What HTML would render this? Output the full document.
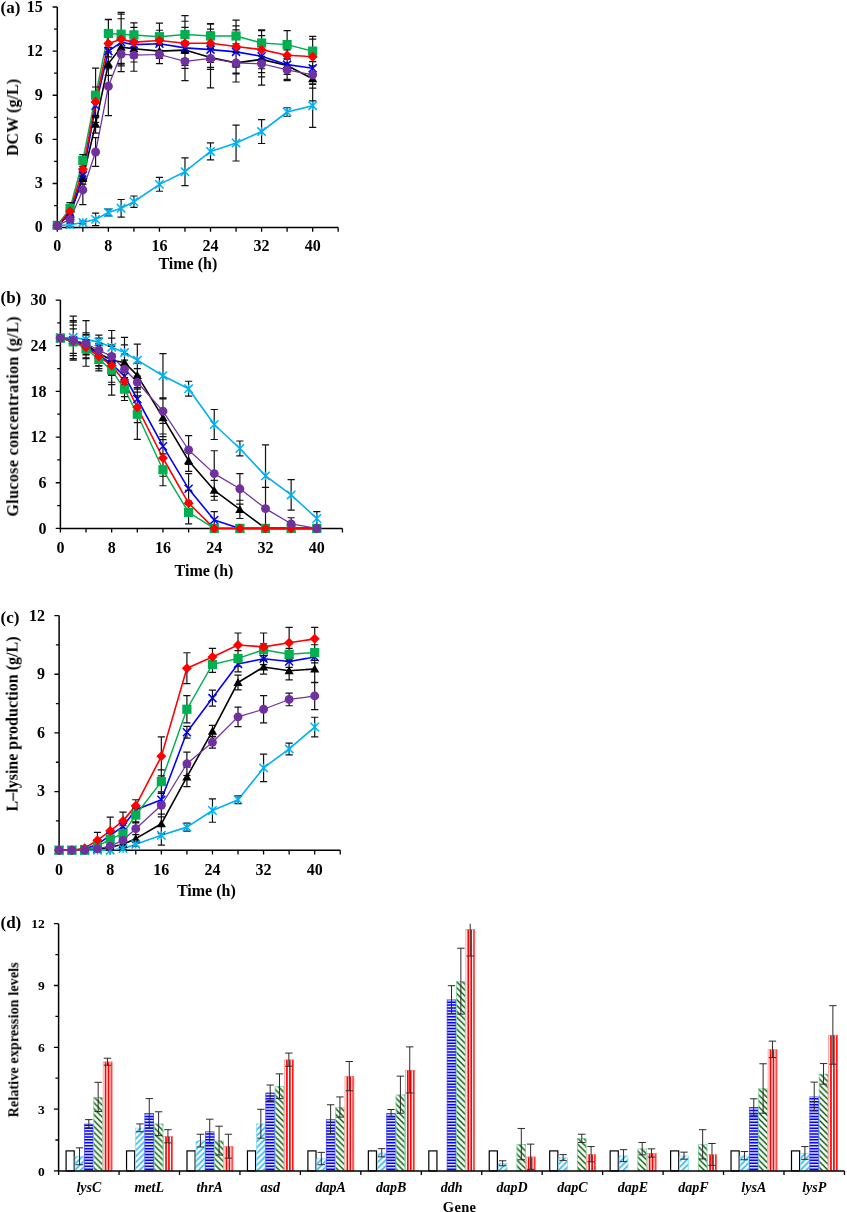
<!DOCTYPE html>
<html><head><meta charset="utf-8"><title>Figure</title><style>html,body{margin:0;padding:0;background:#fff;width:847px;height:1212px;overflow:hidden;}svg{display:block;} text{will-change:transform;}</style></head><body>
<svg width="847" height="1212" viewBox="0 0 847 1212">
<rect width="847" height="1212" fill="#fff"/>
<path d="M57.3,6.99V227.6H338.2" stroke="#000" stroke-width="1.5" fill="none"/>
<path d="M52.6,227.6H57.3M54.1,205.54H57.3M52.6,183.48H57.3M54.1,161.42H57.3M52.6,139.36H57.3M54.1,117.3H57.3M52.6,95.24H57.3M54.1,73.18H57.3M52.6,51.12H57.3M54.1,29.06H57.3M52.6,6.99H57.3M57.3,227.6V231.8M82.84,227.6V231.8M108.37,227.6V231.8M133.91,227.6V231.8M159.44,227.6V231.8M184.98,227.6V231.8M210.52,227.6V231.8M236.05,227.6V231.8M261.59,227.6V231.8M287.12,227.6V231.8M312.66,227.6V231.8M338.2,227.6V231.8" stroke="#000" stroke-width="1.3" fill="none"/>
<text x="42.8" y="232.2" text-anchor="end" font-family="Liberation Serif" font-weight="bold" font-size="16">0</text>
<text x="42.8" y="188.08" text-anchor="end" font-family="Liberation Serif" font-weight="bold" font-size="16">3</text>
<text x="42.8" y="143.96" text-anchor="end" font-family="Liberation Serif" font-weight="bold" font-size="16">6</text>
<text x="42.8" y="99.84" text-anchor="end" font-family="Liberation Serif" font-weight="bold" font-size="16">9</text>
<text x="42.8" y="55.72" text-anchor="end" font-family="Liberation Serif" font-weight="bold" font-size="16">12</text>
<text x="42.8" y="11.59" text-anchor="end" font-family="Liberation Serif" font-weight="bold" font-size="16">15</text>
<text x="57.3" y="251.3" text-anchor="middle" font-family="Liberation Serif" font-weight="bold" font-size="16">0</text>
<text x="108.37" y="251.3" text-anchor="middle" font-family="Liberation Serif" font-weight="bold" font-size="16">8</text>
<text x="159.44" y="251.3" text-anchor="middle" font-family="Liberation Serif" font-weight="bold" font-size="16">16</text>
<text x="210.52" y="251.3" text-anchor="middle" font-family="Liberation Serif" font-weight="bold" font-size="16">24</text>
<text x="261.59" y="251.3" text-anchor="middle" font-family="Liberation Serif" font-weight="bold" font-size="16">32</text>
<text x="312.66" y="251.3" text-anchor="middle" font-family="Liberation Serif" font-weight="bold" font-size="16">40</text>
<text x="187.8" y="269.2" text-anchor="middle" font-family="Liberation Serif" font-weight="bold" font-size="16">Time (h)</text>
<text transform="translate(18,117.5) rotate(-90)" text-anchor="middle" font-family="Liberation Serif" font-weight="bold" font-size="16" textLength="77" lengthAdjust="spacing">DCW (g/L)</text>
<text x="0.5" y="12.6" font-family="Liberation Serif" font-weight="bold" font-size="17">(a)</text>
<g>
<polyline points="57.3,225.39 70.07,214.36 82.84,178.18 95.6,124.21 108.37,63.62 121.14,47.15 133.91,48.76 159.44,51.12 184.98,50.09 210.52,57.59 236.05,62.88 261.59,59.35 287.12,65.53 312.66,78.77" stroke="#000000" stroke-width="1.6" fill="none" stroke-linejoin="round"/>
<polyline points="57.3,225.54 70.07,224.81 82.84,222.45 95.6,219.36 108.37,212.45 121.14,208.33 133.91,201.72 159.44,184.36 184.98,171.71 210.52,151.42 236.05,143.03 261.59,131.56 287.12,112 312.66,105.68" stroke="#00B0F0" stroke-width="1.6" fill="none" stroke-linejoin="round"/>
<polyline points="57.3,225.39 70.07,212.89 82.84,175.54 95.6,105.83 108.37,51.12 121.14,42.29 133.91,44.64 159.44,43.76 184.98,47.88 210.52,49.65 236.05,51.85 261.59,56.26 287.12,64.65 312.66,68.18" stroke="#0000FF" stroke-width="1.6" fill="none" stroke-linejoin="round"/>
<polyline points="57.3,225.39 70.07,208.48 82.84,160.54 95.6,95.24 108.37,33.47 121.14,34.2 133.91,34.94 159.44,36.7 184.98,34.5 210.52,35.97 236.05,35.97 261.59,43.03 287.12,44.64 312.66,51.12" stroke="#00B050" stroke-width="1.45" fill="none" stroke-linejoin="round"/>
<polyline points="57.3,225.39 70.07,211.28 82.84,169.36 95.6,101.71 108.37,43.47 121.14,39.2 133.91,42.14 159.44,40.53 184.98,43.32 210.52,43.32 236.05,46.56 261.59,49.65 287.12,55.23 312.66,56.7" stroke="#FF0000" stroke-width="1.6" fill="none" stroke-linejoin="round"/>
<polyline points="57.3,225.54 70.07,219.36 82.84,189.95 95.6,152.01 108.37,86.27 121.14,54.06 133.91,55.09 159.44,54.5 184.98,61.41 210.52,58.47 236.05,62.88 261.59,63.76 287.12,69.94 312.66,74.79" stroke="#7030A0" stroke-width="1.25" fill="none" stroke-linejoin="round"/>
<path d="M57.3,224.66V226.13M53.7,224.66H60.9M53.7,226.13H60.9M70.07,209.95V218.78M66.47,209.95H73.67M66.47,218.78H73.67M82.84,172.3V184.07M79.24,172.3H86.44M79.24,184.07H86.44M95.6,115.39V133.03M92,115.39H99.2M92,133.03H99.2M108.37,51.85V75.38M104.77,51.85H111.97M104.77,75.38H111.97M121.14,30.97V63.32M117.54,30.97H124.74M117.54,63.32H124.74M133.91,35.53V62M130.31,35.53H137.51M130.31,62H137.51M159.44,43.76V58.47M155.84,43.76H163.04M155.84,58.47H163.04M184.98,41.26V58.91M181.38,41.26H188.58M181.38,58.91H188.58M210.52,45.82V69.35M206.92,45.82H214.12M206.92,69.35H214.12M236.05,52.59V73.18M232.45,52.59H239.65M232.45,73.18H239.65M261.59,46.12V72.59M257.99,46.12H265.19M257.99,72.59H265.19M287.12,56.7V74.35M283.52,56.7H290.72M283.52,74.35H290.72M312.66,56.7V100.83M309.06,56.7H316.26M309.06,100.83H316.26M57.3,224.81V226.28M53.7,224.81H60.9M53.7,226.28H60.9M70.07,223.33V226.28M66.47,223.33H73.67M66.47,226.28H73.67M82.84,220.98V223.92M79.24,220.98H86.44M79.24,223.92H86.44M95.6,213.04V225.69M92,213.04H99.2M92,225.69H99.2M108.37,209.07V215.83M104.77,209.07H111.97M104.77,215.83H111.97M121.14,199.51V217.16M117.54,199.51H124.74M117.54,217.16H124.74M133.91,195.98V207.45M130.31,195.98H137.51M130.31,207.45H137.51M159.44,177.45V191.27M155.84,177.45H163.04M155.84,191.27H163.04M184.98,157.89V185.54M181.38,157.89H188.58M181.38,185.54H188.58M210.52,142.89V159.95M206.92,142.89H214.12M206.92,159.95H214.12M236.05,125.09V160.98M232.45,125.09H239.65M232.45,160.98H239.65M261.59,119.65V143.48M257.99,119.65H265.19M257.99,143.48H265.19M287.12,107.74V116.27M283.52,107.74H290.72M283.52,116.27H290.72M312.66,83.91V127.45M309.06,83.91H316.26M309.06,127.45H316.26M57.3,224.66V226.13M53.7,224.66H60.9M53.7,226.13H60.9M70.07,208.48V217.31M66.47,208.48H73.67M66.47,217.31H73.67M82.84,169.65V181.42M79.24,169.65H86.44M79.24,181.42H86.44M95.6,94.06V117.59M92,94.06H99.2M92,117.59H99.2M108.37,33.47V68.76M104.77,33.47H111.97M104.77,68.76H111.97M121.14,18.76V65.82M117.54,18.76H124.74M117.54,65.82H124.74M133.91,31.41V57.88M130.31,31.41H137.51M130.31,57.88H137.51M159.44,34.94V52.59M155.84,34.94H163.04M155.84,52.59H163.04M184.98,27.29V68.47M181.38,27.29H188.58M181.38,68.47H188.58M210.52,32V67.29M206.92,32H214.12M206.92,67.29H214.12M236.05,29.79V73.91M232.45,29.79H239.65M232.45,73.91H239.65M261.59,35.67V76.85M257.99,35.67H265.19M257.99,76.85H265.19M287.12,49.94V79.35M283.52,49.94H290.72M283.52,79.35H290.72M312.66,52V84.35M309.06,52H316.26M309.06,84.35H316.26M57.3,224.66V226.13M53.7,224.66H60.9M53.7,226.13H60.9M70.07,202.6V214.36M66.47,202.6H73.67M66.47,214.36H73.67M82.84,154.65V166.42M79.24,154.65H86.44M79.24,166.42H86.44M95.6,68.03V122.44M92,68.03H99.2M92,122.44H99.2M108.37,19.35V47.59M104.77,19.35H111.97M104.77,47.59H111.97M121.14,12.44V55.97M117.54,12.44H124.74M117.54,55.97H124.74M133.91,22.88V47M130.31,22.88H137.51M130.31,47H137.51M159.44,23.17V50.23M155.84,23.17H163.04M155.84,50.23H163.04M184.98,15.53V53.47M181.38,15.53H188.58M181.38,53.47H188.58M210.52,23.61V48.32M206.92,23.61H214.12M206.92,48.32H214.12M236.05,20.08V51.85M232.45,20.08H239.65M232.45,51.85H239.65M261.59,29.79V56.26M257.99,29.79H265.19M257.99,56.26H265.19M287.12,30.67V58.62M283.52,30.67H290.72M283.52,58.62H290.72M312.66,36.41V65.82M309.06,36.41H316.26M309.06,65.82H316.26M57.3,224.66V226.13M53.7,224.66H60.9M53.7,226.13H60.9M70.07,206.86V215.69M66.47,206.86H73.67M66.47,215.69H73.67M82.84,162.01V176.71M79.24,162.01H86.44M79.24,176.71H86.44M95.6,87V116.42M92,87H99.2M92,116.42H99.2M108.37,19.64V67.29M104.77,19.64H111.97M104.77,67.29H111.97M121.14,14.2V64.21M117.54,14.2H124.74M117.54,64.21H124.74M133.91,27.44V56.85M130.31,27.44H137.51M130.31,56.85H137.51M159.44,30.23V50.82M155.84,30.23H163.04M155.84,50.82H163.04M184.98,21.26V65.38M181.38,21.26H188.58M181.38,65.38H188.58M210.52,24.2V62.44M206.92,24.2H214.12M206.92,62.44H214.12M236.05,25.97V67.15M232.45,25.97H239.65M232.45,67.15H239.65M261.59,30.53V68.76M257.99,30.53H265.19M257.99,68.76H265.19M287.12,40.53V69.94M283.52,40.53H290.72M283.52,69.94H290.72M312.66,39.06V74.35M309.06,39.06H316.26M309.06,74.35H316.26M57.3,224.81V226.28M53.7,224.81H60.9M53.7,226.28H60.9M70.07,216.42V222.31M66.47,216.42H73.67M66.47,222.31H73.67M82.84,175.24V204.66M79.24,175.24H86.44M79.24,204.66H86.44M95.6,137.59V166.42M92,137.59H99.2M92,166.42H99.2M108.37,56.85V115.68M104.77,56.85H111.97M104.77,115.68H111.97M121.14,36.41V71.71M117.54,36.41H124.74M117.54,71.71H124.74M133.91,38.91V71.26M130.31,38.91H137.51M130.31,71.26H137.51M159.44,45.38V63.62M155.84,45.38H163.04M155.84,63.62H163.04M184.98,42.29V80.53M181.38,42.29H188.58M181.38,80.53H188.58M210.52,29.06V87.88M206.92,29.06H214.12M206.92,87.88H214.12M236.05,43.76V82M232.45,43.76H239.65M232.45,82H239.65M261.59,42.44V85.09M257.99,42.44H265.19M257.99,85.09H265.19M287.12,59.2V80.68M283.52,59.2H290.72M283.52,80.68H290.72M312.66,61.56V88.03M309.06,61.56H316.26M309.06,88.03H316.26" stroke="#111" stroke-width="1.2" fill="none"/>
<polygon points="57.3,220.99 61.9,228.91 52.7,228.91" fill="#000000"/>
<polygon points="70.07,209.96 74.67,217.88 65.47,217.88" fill="#000000"/>
<polygon points="82.84,173.78 87.44,181.7 78.24,181.7" fill="#000000"/>
<polygon points="95.6,119.81 100.2,127.73 91,127.73" fill="#000000"/>
<polygon points="108.37,59.22 112.97,67.14 103.77,67.14" fill="#000000"/>
<polygon points="121.14,42.75 125.74,50.67 116.54,50.67" fill="#000000"/>
<polygon points="133.91,44.36 138.51,52.28 129.31,52.28" fill="#000000"/>
<polygon points="159.44,46.72 164.04,54.64 154.84,54.64" fill="#000000"/>
<polygon points="184.98,45.69 189.58,53.61 180.38,53.61" fill="#000000"/>
<polygon points="210.52,53.19 215.12,61.11 205.92,61.11" fill="#000000"/>
<polygon points="236.05,58.48 240.65,66.4 231.45,66.4" fill="#000000"/>
<polygon points="261.59,54.95 266.19,62.87 256.99,62.87" fill="#000000"/>
<polygon points="287.12,61.13 291.72,69.05 282.52,69.05" fill="#000000"/>
<polygon points="312.66,74.37 317.26,82.29 308.06,82.29" fill="#000000"/>
<path d="M53.1,221.34L61.5,229.74M53.1,229.74L61.5,221.34M57.3,221.34L57.3,229.74" stroke="#00B0F0" stroke-width="1.5" fill="none"/>
<path d="M65.87,220.61L74.27,229.01M65.87,229.01L74.27,220.61M70.07,220.61L70.07,229.01" stroke="#00B0F0" stroke-width="1.5" fill="none"/>
<path d="M78.64,218.25L87.04,226.65M78.64,226.65L87.04,218.25M82.84,218.25L82.84,226.65" stroke="#00B0F0" stroke-width="1.5" fill="none"/>
<path d="M91.4,215.16L99.8,223.56M91.4,223.56L99.8,215.16M95.6,215.16L95.6,223.56" stroke="#00B0F0" stroke-width="1.5" fill="none"/>
<path d="M104.17,208.25L112.57,216.65M104.17,216.65L112.57,208.25M108.37,208.25L108.37,216.65" stroke="#00B0F0" stroke-width="1.5" fill="none"/>
<path d="M116.94,204.13L125.34,212.53M116.94,212.53L125.34,204.13M121.14,204.13L121.14,212.53" stroke="#00B0F0" stroke-width="1.5" fill="none"/>
<path d="M129.71,197.52L138.11,205.92M129.71,205.92L138.11,197.52M133.91,197.52L133.91,205.92" stroke="#00B0F0" stroke-width="1.5" fill="none"/>
<path d="M155.24,180.16L163.64,188.56M155.24,188.56L163.64,180.16M159.44,180.16L159.44,188.56" stroke="#00B0F0" stroke-width="1.5" fill="none"/>
<path d="M180.78,167.51L189.18,175.91M180.78,175.91L189.18,167.51M184.98,167.51L184.98,175.91" stroke="#00B0F0" stroke-width="1.5" fill="none"/>
<path d="M206.32,147.22L214.72,155.62M206.32,155.62L214.72,147.22M210.52,147.22L210.52,155.62" stroke="#00B0F0" stroke-width="1.5" fill="none"/>
<path d="M231.85,138.83L240.25,147.23M231.85,147.23L240.25,138.83M236.05,138.83L236.05,147.23" stroke="#00B0F0" stroke-width="1.5" fill="none"/>
<path d="M257.39,127.36L265.79,135.76M257.39,135.76L265.79,127.36M261.59,127.36L261.59,135.76" stroke="#00B0F0" stroke-width="1.5" fill="none"/>
<path d="M282.92,107.8L291.32,116.2M282.92,116.2L291.32,107.8M287.12,107.8L287.12,116.2" stroke="#00B0F0" stroke-width="1.5" fill="none"/>
<path d="M308.46,101.48L316.86,109.88M308.46,109.88L316.86,101.48M312.66,101.48L312.66,109.88" stroke="#00B0F0" stroke-width="1.5" fill="none"/>
<path d="M53.3,221.39L61.3,229.39M53.3,229.39L61.3,221.39" stroke="#0000FF" stroke-width="1.5" fill="none"/>
<path d="M66.07,208.89L74.07,216.89M66.07,216.89L74.07,208.89" stroke="#0000FF" stroke-width="1.5" fill="none"/>
<path d="M78.84,171.54L86.84,179.54M78.84,179.54L86.84,171.54" stroke="#0000FF" stroke-width="1.5" fill="none"/>
<path d="M91.6,101.83L99.6,109.83M91.6,109.83L99.6,101.83" stroke="#0000FF" stroke-width="1.5" fill="none"/>
<path d="M104.37,47.12L112.37,55.12M104.37,55.12L112.37,47.12" stroke="#0000FF" stroke-width="1.5" fill="none"/>
<path d="M117.14,38.29L125.14,46.29M117.14,46.29L125.14,38.29" stroke="#0000FF" stroke-width="1.5" fill="none"/>
<path d="M129.91,40.64L137.91,48.64M129.91,48.64L137.91,40.64" stroke="#0000FF" stroke-width="1.5" fill="none"/>
<path d="M155.44,39.76L163.44,47.76M155.44,47.76L163.44,39.76" stroke="#0000FF" stroke-width="1.5" fill="none"/>
<path d="M180.98,43.88L188.98,51.88M180.98,51.88L188.98,43.88" stroke="#0000FF" stroke-width="1.5" fill="none"/>
<path d="M206.52,45.65L214.52,53.65M206.52,53.65L214.52,45.65" stroke="#0000FF" stroke-width="1.5" fill="none"/>
<path d="M232.05,47.85L240.05,55.85M232.05,55.85L240.05,47.85" stroke="#0000FF" stroke-width="1.5" fill="none"/>
<path d="M257.59,52.26L265.59,60.26M257.59,60.26L265.59,52.26" stroke="#0000FF" stroke-width="1.5" fill="none"/>
<path d="M283.12,60.65L291.12,68.65M283.12,68.65L291.12,60.65" stroke="#0000FF" stroke-width="1.5" fill="none"/>
<path d="M308.66,64.18L316.66,72.18M308.66,72.18L316.66,64.18" stroke="#0000FF" stroke-width="1.5" fill="none"/>
<rect x="52.7" y="220.79" width="9.2" height="9.2" fill="#00B050"/>
<rect x="65.47" y="203.88" width="9.2" height="9.2" fill="#00B050"/>
<rect x="78.24" y="155.94" width="9.2" height="9.2" fill="#00B050"/>
<rect x="91" y="90.64" width="9.2" height="9.2" fill="#00B050"/>
<rect x="103.77" y="28.87" width="9.2" height="9.2" fill="#00B050"/>
<rect x="116.54" y="29.6" width="9.2" height="9.2" fill="#00B050"/>
<rect x="129.31" y="30.34" width="9.2" height="9.2" fill="#00B050"/>
<rect x="154.84" y="32.1" width="9.2" height="9.2" fill="#00B050"/>
<rect x="180.38" y="29.9" width="9.2" height="9.2" fill="#00B050"/>
<rect x="205.92" y="31.37" width="9.2" height="9.2" fill="#00B050"/>
<rect x="231.45" y="31.37" width="9.2" height="9.2" fill="#00B050"/>
<rect x="256.99" y="38.43" width="9.2" height="9.2" fill="#00B050"/>
<rect x="282.52" y="40.04" width="9.2" height="9.2" fill="#00B050"/>
<rect x="308.06" y="46.52" width="9.2" height="9.2" fill="#00B050"/>
<polygon points="57.3,220.39 62.3,225.39 57.3,230.39 52.3,225.39" fill="#FF0000"/>
<polygon points="70.07,206.28 75.07,211.28 70.07,216.28 65.07,211.28" fill="#FF0000"/>
<polygon points="82.84,164.36 87.84,169.36 82.84,174.36 77.84,169.36" fill="#FF0000"/>
<polygon points="95.6,96.71 100.6,101.71 95.6,106.71 90.6,101.71" fill="#FF0000"/>
<polygon points="108.37,38.47 113.37,43.47 108.37,48.47 103.37,43.47" fill="#FF0000"/>
<polygon points="121.14,34.2 126.14,39.2 121.14,44.2 116.14,39.2" fill="#FF0000"/>
<polygon points="133.91,37.14 138.91,42.14 133.91,47.14 128.91,42.14" fill="#FF0000"/>
<polygon points="159.44,35.53 164.44,40.53 159.44,45.53 154.44,40.53" fill="#FF0000"/>
<polygon points="184.98,38.32 189.98,43.32 184.98,48.32 179.98,43.32" fill="#FF0000"/>
<polygon points="210.52,38.32 215.52,43.32 210.52,48.32 205.52,43.32" fill="#FF0000"/>
<polygon points="236.05,41.56 241.05,46.56 236.05,51.56 231.05,46.56" fill="#FF0000"/>
<polygon points="261.59,44.65 266.59,49.65 261.59,54.65 256.59,49.65" fill="#FF0000"/>
<polygon points="287.12,50.23 292.12,55.23 287.12,60.23 282.12,55.23" fill="#FF0000"/>
<polygon points="312.66,51.7 317.66,56.7 312.66,61.7 307.66,56.7" fill="#FF0000"/>
<circle cx="57.3" cy="225.54" r="4.45" fill="#7030A0"/>
<circle cx="70.07" cy="219.36" r="4.45" fill="#7030A0"/>
<circle cx="82.84" cy="189.95" r="4.45" fill="#7030A0"/>
<circle cx="95.6" cy="152.01" r="4.45" fill="#7030A0"/>
<circle cx="108.37" cy="86.27" r="4.45" fill="#7030A0"/>
<circle cx="121.14" cy="54.06" r="4.45" fill="#7030A0"/>
<circle cx="133.91" cy="55.09" r="4.45" fill="#7030A0"/>
<circle cx="159.44" cy="54.5" r="4.45" fill="#7030A0"/>
<circle cx="184.98" cy="61.41" r="4.45" fill="#7030A0"/>
<circle cx="210.52" cy="58.47" r="4.45" fill="#7030A0"/>
<circle cx="236.05" cy="62.88" r="4.45" fill="#7030A0"/>
<circle cx="261.59" cy="63.76" r="4.45" fill="#7030A0"/>
<circle cx="287.12" cy="69.94" r="4.45" fill="#7030A0"/>
<circle cx="312.66" cy="74.79" r="4.45" fill="#7030A0"/>
</g>
<path d="M60.4,300.04V528.4H342.44" stroke="#000" stroke-width="1.5" fill="none"/>
<path d="M55.7,528.4H60.4M57.2,505.56H60.4M55.7,482.73H60.4M57.2,459.89H60.4M55.7,437.06H60.4M57.2,414.22H60.4M55.7,391.38H60.4M57.2,368.55H60.4M55.7,345.71H60.4M57.2,322.88H60.4M55.7,300.04H60.4M60.4,528.4V532.6M86.04,528.4V532.6M111.68,528.4V532.6M137.32,528.4V532.6M162.96,528.4V532.6M188.6,528.4V532.6M214.24,528.4V532.6M239.88,528.4V532.6M265.52,528.4V532.6M291.16,528.4V532.6M316.8,528.4V532.6M342.44,528.4V532.6" stroke="#000" stroke-width="1.3" fill="none"/>
<text x="46.6" y="533.7" text-anchor="end" font-family="Liberation Serif" font-weight="bold" font-size="16">0</text>
<text x="46.6" y="488.03" text-anchor="end" font-family="Liberation Serif" font-weight="bold" font-size="16">6</text>
<text x="46.6" y="442.36" text-anchor="end" font-family="Liberation Serif" font-weight="bold" font-size="16">12</text>
<text x="46.6" y="396.68" text-anchor="end" font-family="Liberation Serif" font-weight="bold" font-size="16">18</text>
<text x="46.6" y="351.01" text-anchor="end" font-family="Liberation Serif" font-weight="bold" font-size="16">24</text>
<text x="46.6" y="305.34" text-anchor="end" font-family="Liberation Serif" font-weight="bold" font-size="16">30</text>
<text x="60.4" y="553.3" text-anchor="middle" font-family="Liberation Serif" font-weight="bold" font-size="16">0</text>
<text x="111.68" y="553.3" text-anchor="middle" font-family="Liberation Serif" font-weight="bold" font-size="16">8</text>
<text x="162.96" y="553.3" text-anchor="middle" font-family="Liberation Serif" font-weight="bold" font-size="16">16</text>
<text x="214.24" y="553.3" text-anchor="middle" font-family="Liberation Serif" font-weight="bold" font-size="16">24</text>
<text x="265.52" y="553.3" text-anchor="middle" font-family="Liberation Serif" font-weight="bold" font-size="16">32</text>
<text x="316.8" y="553.3" text-anchor="middle" font-family="Liberation Serif" font-weight="bold" font-size="16">40</text>
<text x="204" y="576" text-anchor="middle" font-family="Liberation Serif" font-weight="bold" font-size="16">Time (h)</text>
<text transform="translate(18.2,416.6) rotate(-90)" text-anchor="middle" font-family="Liberation Serif" font-weight="bold" font-size="16" textLength="200" lengthAdjust="spacing">Glucose concentration (g/L)</text>
<text x="0.5" y="303" font-family="Liberation Serif" font-weight="bold" font-size="17">(b)</text>
<g>
<polyline points="60.4,338.1 73.22,340.38 86.04,344.19 98.86,353.32 111.68,360.17 124.5,362.46 137.32,375.4 162.96,417.65 188.6,460.65 214.24,490.34 239.88,509.37 265.52,528.4 291.16,528.4 316.8,528.4" stroke="#000000" stroke-width="1.6" fill="none" stroke-linejoin="round"/>
<polyline points="60.4,338.1 73.22,337.34 86.04,339.62 98.86,341.91 111.68,347.23 124.5,352.56 137.32,360.17 162.96,375.78 188.6,388.72 214.24,424.5 239.88,448.47 265.52,475.88 291.16,494.91 316.8,518.5" stroke="#00B0F0" stroke-width="1.6" fill="none" stroke-linejoin="round"/>
<polyline points="60.4,338.1 73.22,340.38 86.04,345.71 98.86,354.85 111.68,363.98 124.5,376.16 137.32,399 162.96,446.19 188.6,488.82 214.24,520.03 239.88,528.4 265.52,528.4 291.16,528.4 316.8,528.4" stroke="#0000FF" stroke-width="1.6" fill="none" stroke-linejoin="round"/>
<polyline points="60.4,338.1 73.22,341.91 86.04,348.76 98.86,359.41 111.68,370.07 124.5,389.1 137.32,414.22 162.96,469.79 188.6,512.41 214.24,528.4 239.88,528.4 265.52,528.4 291.16,528.4 316.8,528.4" stroke="#00B050" stroke-width="1.45" fill="none" stroke-linejoin="round"/>
<polyline points="60.4,338.1 73.22,341.14 86.04,347.23 98.86,356.37 111.68,365.5 124.5,381.49 137.32,407.37 162.96,457.99 188.6,503.28 214.24,528.4 239.88,528.4 265.52,528.4 291.16,528.4 316.8,528.4" stroke="#FF0000" stroke-width="1.6" fill="none" stroke-linejoin="round"/>
<polyline points="60.4,338.1 73.22,340.38 86.04,343.43 98.86,350.28 111.68,356.37 124.5,369.31 137.32,382.25 162.96,411.18 188.6,450 214.24,473.59 239.88,488.82 265.52,508.61 291.16,523.83 316.8,528.4" stroke="#7030A0" stroke-width="1.25" fill="none" stroke-linejoin="round"/>
<path d="M60.4,335.82V340.38M56.8,335.82H64M56.8,340.38H64M73.22,322.11V358.65M69.62,322.11H76.82M69.62,358.65H76.82M86.04,334.29V354.09M82.44,334.29H89.64M82.44,354.09H89.64M98.86,343.43V363.22M95.26,343.43H102.46M95.26,363.22H102.46M111.68,344.95V375.4M108.08,344.95H115.28M108.08,375.4H115.28M124.5,337.34V387.58M120.9,337.34H128.1M120.9,387.58H128.1M137.32,363.22V387.58M133.72,363.22H140.92M133.72,387.58H140.92M162.96,398.62V436.68M159.36,398.62H166.56M159.36,436.68H166.56M188.6,450V471.31M185,450H192.2M185,471.31H192.2M214.24,480.44V500.24M210.64,480.44H217.84M210.64,500.24H217.84M239.88,500.24V518.5M236.28,500.24H243.48M236.28,518.5H243.48M60.4,335.82V340.38M56.8,335.82H64M56.8,340.38H64M73.22,316.03V358.65M69.62,316.03H76.82M69.62,358.65H76.82M86.04,335.06V344.19M82.44,335.06H89.64M82.44,344.19H89.64M98.86,338.1V345.71M95.26,338.1H102.46M95.26,345.71H102.46M111.68,338.1V356.37M108.08,338.1H115.28M108.08,356.37H115.28M124.5,344.95V360.17M120.9,344.95H128.1M120.9,360.17H128.1M137.32,344.19V376.16M133.72,344.19H140.92M133.72,376.16H140.92M162.96,353.7V397.85M159.36,353.7H166.56M159.36,397.85H166.56M188.6,381.26V396.18M185,381.26H192.2M185,396.18H192.2M214.24,409.5V439.49M210.64,409.5H217.84M210.64,439.49H217.84M239.88,441.01V455.93M236.28,441.01H243.48M236.28,455.93H243.48M265.52,444.97V506.78M261.92,444.97H269.12M261.92,506.78H269.12M291.16,479.68V510.13M287.56,479.68H294.76M287.56,510.13H294.76M316.8,511.65V525.36M313.2,511.65H320.4M313.2,525.36H320.4M60.4,335.82V340.38M56.8,335.82H64M56.8,340.38H64M73.22,325.16V355.61M69.62,325.16H76.82M69.62,355.61H76.82M86.04,332.77V358.65M82.44,332.77H89.64M82.44,358.65H89.64M98.86,343.43V366.26M95.26,343.43H102.46M95.26,366.26H102.46M111.68,354.09V373.88M108.08,354.09H115.28M108.08,373.88H115.28M124.5,367.03V385.29M120.9,367.03H128.1M120.9,385.29H128.1M137.32,387.58V410.41M133.72,387.58H140.92M133.72,410.41H140.92M162.96,434.01V458.37M159.36,434.01H166.56M159.36,458.37H166.56M188.6,473.59V504.04M185,473.59H192.2M185,504.04H192.2M214.24,511.65V528.4M210.64,511.65H217.84M210.64,528.4H217.84M60.4,335.82V340.38M56.8,335.82H64M56.8,340.38H64M86.04,339.62V357.89M82.44,339.62H89.64M82.44,357.89H89.64M98.86,348V370.83M95.26,348H102.46M95.26,370.83H102.46M111.68,344.95V395.19M108.08,344.95H115.28M108.08,395.19H115.28M124.5,377.68V400.52M120.9,377.68H128.1M120.9,400.52H128.1M137.32,389.1V439.34M133.72,389.1H140.92M133.72,439.34H140.92M162.96,453.8V485.77M159.36,453.8H166.56M159.36,485.77H166.56M188.6,501V523.83M185,501H192.2M185,523.83H192.2M60.4,335.82V340.38M56.8,335.82H64M56.8,340.38H64M73.22,328.97V353.32M69.62,328.97H76.82M69.62,353.32H76.82M86.04,339.62V354.85M82.44,339.62H89.64M82.44,354.85H89.64M98.86,344.19V368.55M95.26,344.19H102.46M95.26,368.55H102.46M111.68,346.47V384.53M108.08,346.47H115.28M108.08,384.53H115.28M124.5,366.26V396.71M120.9,366.26H128.1M120.9,396.71H128.1M137.32,392.15V422.59M133.72,392.15H140.92M133.72,422.59H140.92M162.96,439.72V476.26M159.36,439.72H166.56M159.36,476.26H166.56M188.6,490.34V516.22M185,490.34H192.2M185,516.22H192.2M60.4,335.82V340.38M56.8,335.82H64M56.8,340.38H64M73.22,320.59V360.17M69.62,320.59H76.82M69.62,360.17H76.82M86.04,320.59V366.26M82.44,320.59H89.64M82.44,366.26H89.64M98.86,335.06V365.5M95.26,335.06H102.46M95.26,365.5H102.46M111.68,330.49V382.25M108.08,330.49H115.28M108.08,382.25H115.28M124.5,354.09V384.53M120.9,354.09H128.1M120.9,384.53H128.1M137.32,368.55V395.95M133.72,368.55H140.92M133.72,395.95H140.92M162.96,399V423.35M159.36,399H166.56M159.36,423.35H166.56M188.6,435.53V464.46M185,435.53H192.2M185,464.46H192.2M214.24,450.76V496.43M210.64,450.76H217.84M210.64,496.43H217.84M239.88,473.59V504.04M236.28,473.59H243.48M236.28,504.04H243.48M265.52,487.3V528.4M261.92,487.3H269.12M291.16,517.74V528.4M287.56,517.74H294.76M316.8,526.12V528.4M313.2,526.12H320.4" stroke="#111" stroke-width="1.2" fill="none"/>
<polygon points="60.4,333.7 65,341.62 55.8,341.62" fill="#000000"/>
<polygon points="73.22,335.98 77.82,343.9 68.62,343.9" fill="#000000"/>
<polygon points="86.04,339.79 90.64,347.71 81.44,347.71" fill="#000000"/>
<polygon points="98.86,348.92 103.46,356.84 94.26,356.84" fill="#000000"/>
<polygon points="111.68,355.77 116.28,363.69 107.08,363.69" fill="#000000"/>
<polygon points="124.5,358.06 129.1,365.98 119.9,365.98" fill="#000000"/>
<polygon points="137.32,371 141.92,378.92 132.72,378.92" fill="#000000"/>
<polygon points="162.96,413.25 167.56,421.17 158.36,421.17" fill="#000000"/>
<polygon points="188.6,456.25 193.2,464.17 184,464.17" fill="#000000"/>
<polygon points="214.24,485.94 218.84,493.86 209.64,493.86" fill="#000000"/>
<polygon points="239.88,504.97 244.48,512.89 235.28,512.89" fill="#000000"/>
<polygon points="265.52,524 270.12,531.92 260.92,531.92" fill="#000000"/>
<polygon points="291.16,524 295.76,531.92 286.56,531.92" fill="#000000"/>
<polygon points="316.8,524 321.4,531.92 312.2,531.92" fill="#000000"/>
<path d="M56.2,333.9L64.6,342.3M56.2,342.3L64.6,333.9M60.4,333.9L60.4,342.3" stroke="#00B0F0" stroke-width="1.5" fill="none"/>
<path d="M69.02,333.14L77.42,341.54M69.02,341.54L77.42,333.14M73.22,333.14L73.22,341.54" stroke="#00B0F0" stroke-width="1.5" fill="none"/>
<path d="M81.84,335.42L90.24,343.82M81.84,343.82L90.24,335.42M86.04,335.42L86.04,343.82" stroke="#00B0F0" stroke-width="1.5" fill="none"/>
<path d="M94.66,337.71L103.06,346.11M94.66,346.11L103.06,337.71M98.86,337.71L98.86,346.11" stroke="#00B0F0" stroke-width="1.5" fill="none"/>
<path d="M107.48,343.03L115.88,351.43M107.48,351.43L115.88,343.03M111.68,343.03L111.68,351.43" stroke="#00B0F0" stroke-width="1.5" fill="none"/>
<path d="M120.3,348.36L128.7,356.76M120.3,356.76L128.7,348.36M124.5,348.36L124.5,356.76" stroke="#00B0F0" stroke-width="1.5" fill="none"/>
<path d="M133.12,355.97L141.52,364.37M133.12,364.37L141.52,355.97M137.32,355.97L137.32,364.37" stroke="#00B0F0" stroke-width="1.5" fill="none"/>
<path d="M158.76,371.58L167.16,379.98M158.76,379.98L167.16,371.58M162.96,371.58L162.96,379.98" stroke="#00B0F0" stroke-width="1.5" fill="none"/>
<path d="M184.4,384.52L192.8,392.92M184.4,392.92L192.8,384.52M188.6,384.52L188.6,392.92" stroke="#00B0F0" stroke-width="1.5" fill="none"/>
<path d="M210.04,420.3L218.44,428.7M210.04,428.7L218.44,420.3M214.24,420.3L214.24,428.7" stroke="#00B0F0" stroke-width="1.5" fill="none"/>
<path d="M235.68,444.27L244.08,452.67M235.68,452.67L244.08,444.27M239.88,444.27L239.88,452.67" stroke="#00B0F0" stroke-width="1.5" fill="none"/>
<path d="M261.32,471.68L269.72,480.08M261.32,480.08L269.72,471.68M265.52,471.68L265.52,480.08" stroke="#00B0F0" stroke-width="1.5" fill="none"/>
<path d="M286.96,490.71L295.36,499.11M286.96,499.11L295.36,490.71M291.16,490.71L291.16,499.11" stroke="#00B0F0" stroke-width="1.5" fill="none"/>
<path d="M312.6,514.3L321,522.7M312.6,522.7L321,514.3M316.8,514.3L316.8,522.7" stroke="#00B0F0" stroke-width="1.5" fill="none"/>
<path d="M56.4,334.1L64.4,342.1M56.4,342.1L64.4,334.1" stroke="#0000FF" stroke-width="1.5" fill="none"/>
<path d="M69.22,336.38L77.22,344.38M69.22,344.38L77.22,336.38" stroke="#0000FF" stroke-width="1.5" fill="none"/>
<path d="M82.04,341.71L90.04,349.71M82.04,349.71L90.04,341.71" stroke="#0000FF" stroke-width="1.5" fill="none"/>
<path d="M94.86,350.85L102.86,358.85M94.86,358.85L102.86,350.85" stroke="#0000FF" stroke-width="1.5" fill="none"/>
<path d="M107.68,359.98L115.68,367.98M107.68,367.98L115.68,359.98" stroke="#0000FF" stroke-width="1.5" fill="none"/>
<path d="M120.5,372.16L128.5,380.16M120.5,380.16L128.5,372.16" stroke="#0000FF" stroke-width="1.5" fill="none"/>
<path d="M133.32,395L141.32,403M133.32,403L141.32,395" stroke="#0000FF" stroke-width="1.5" fill="none"/>
<path d="M158.96,442.19L166.96,450.19M158.96,450.19L166.96,442.19" stroke="#0000FF" stroke-width="1.5" fill="none"/>
<path d="M184.6,484.82L192.6,492.82M184.6,492.82L192.6,484.82" stroke="#0000FF" stroke-width="1.5" fill="none"/>
<path d="M210.24,516.03L218.24,524.03M210.24,524.03L218.24,516.03" stroke="#0000FF" stroke-width="1.5" fill="none"/>
<path d="M235.88,524.4L243.88,532.4M235.88,532.4L243.88,524.4" stroke="#0000FF" stroke-width="1.5" fill="none"/>
<path d="M261.52,524.4L269.52,532.4M261.52,532.4L269.52,524.4" stroke="#0000FF" stroke-width="1.5" fill="none"/>
<path d="M287.16,524.4L295.16,532.4M287.16,532.4L295.16,524.4" stroke="#0000FF" stroke-width="1.5" fill="none"/>
<path d="M312.8,524.4L320.8,532.4M312.8,532.4L320.8,524.4" stroke="#0000FF" stroke-width="1.5" fill="none"/>
<rect x="55.8" y="333.5" width="9.2" height="9.2" fill="#00B050"/>
<rect x="68.62" y="337.31" width="9.2" height="9.2" fill="#00B050"/>
<rect x="81.44" y="344.16" width="9.2" height="9.2" fill="#00B050"/>
<rect x="94.26" y="354.81" width="9.2" height="9.2" fill="#00B050"/>
<rect x="107.08" y="365.47" width="9.2" height="9.2" fill="#00B050"/>
<rect x="119.9" y="384.5" width="9.2" height="9.2" fill="#00B050"/>
<rect x="132.72" y="409.62" width="9.2" height="9.2" fill="#00B050"/>
<rect x="158.36" y="465.19" width="9.2" height="9.2" fill="#00B050"/>
<rect x="184" y="507.81" width="9.2" height="9.2" fill="#00B050"/>
<rect x="209.64" y="523.8" width="9.2" height="9.2" fill="#00B050"/>
<rect x="235.28" y="523.8" width="9.2" height="9.2" fill="#00B050"/>
<rect x="260.92" y="523.8" width="9.2" height="9.2" fill="#00B050"/>
<rect x="286.56" y="523.8" width="9.2" height="9.2" fill="#00B050"/>
<rect x="312.2" y="523.8" width="9.2" height="9.2" fill="#00B050"/>
<polygon points="60.4,333.1 65.4,338.1 60.4,343.1 55.4,338.1" fill="#FF0000"/>
<polygon points="73.22,336.14 78.22,341.14 73.22,346.14 68.22,341.14" fill="#FF0000"/>
<polygon points="86.04,342.23 91.04,347.23 86.04,352.23 81.04,347.23" fill="#FF0000"/>
<polygon points="98.86,351.37 103.86,356.37 98.86,361.37 93.86,356.37" fill="#FF0000"/>
<polygon points="111.68,360.5 116.68,365.5 111.68,370.5 106.68,365.5" fill="#FF0000"/>
<polygon points="124.5,376.49 129.5,381.49 124.5,386.49 119.5,381.49" fill="#FF0000"/>
<polygon points="137.32,402.37 142.32,407.37 137.32,412.37 132.32,407.37" fill="#FF0000"/>
<polygon points="162.96,452.99 167.96,457.99 162.96,462.99 157.96,457.99" fill="#FF0000"/>
<polygon points="188.6,498.28 193.6,503.28 188.6,508.28 183.6,503.28" fill="#FF0000"/>
<polygon points="214.24,523.4 219.24,528.4 214.24,533.4 209.24,528.4" fill="#FF0000"/>
<polygon points="239.88,523.4 244.88,528.4 239.88,533.4 234.88,528.4" fill="#FF0000"/>
<polygon points="265.52,523.4 270.52,528.4 265.52,533.4 260.52,528.4" fill="#FF0000"/>
<polygon points="291.16,523.4 296.16,528.4 291.16,533.4 286.16,528.4" fill="#FF0000"/>
<polygon points="316.8,523.4 321.8,528.4 316.8,533.4 311.8,528.4" fill="#FF0000"/>
<circle cx="60.4" cy="338.1" r="4.45" fill="#7030A0"/>
<circle cx="73.22" cy="340.38" r="4.45" fill="#7030A0"/>
<circle cx="86.04" cy="343.43" r="4.45" fill="#7030A0"/>
<circle cx="98.86" cy="350.28" r="4.45" fill="#7030A0"/>
<circle cx="111.68" cy="356.37" r="4.45" fill="#7030A0"/>
<circle cx="124.5" cy="369.31" r="4.45" fill="#7030A0"/>
<circle cx="137.32" cy="382.25" r="4.45" fill="#7030A0"/>
<circle cx="162.96" cy="411.18" r="4.45" fill="#7030A0"/>
<circle cx="188.6" cy="450" r="4.45" fill="#7030A0"/>
<circle cx="214.24" cy="473.59" r="4.45" fill="#7030A0"/>
<circle cx="239.88" cy="488.82" r="4.45" fill="#7030A0"/>
<circle cx="265.52" cy="508.61" r="4.45" fill="#7030A0"/>
<circle cx="291.16" cy="523.83" r="4.45" fill="#7030A0"/>
<circle cx="316.8" cy="528.4" r="4.45" fill="#7030A0"/>
</g>
<path d="M59.1,615.6V850.2H340.26" stroke="#000" stroke-width="1.5" fill="none"/>
<path d="M54.4,850.2H59.1M55.9,820.88H59.1M54.4,791.55H59.1M55.9,762.23H59.1M54.4,732.9H59.1M55.9,703.58H59.1M54.4,674.25H59.1M55.9,644.93H59.1M54.4,615.6H59.1M59.1,850.2V854.4M84.66,850.2V854.4M110.22,850.2V854.4M135.78,850.2V854.4M161.34,850.2V854.4M186.9,850.2V854.4M212.46,850.2V854.4M238.02,850.2V854.4M263.58,850.2V854.4M289.14,850.2V854.4M314.7,850.2V854.4M340.26,850.2V854.4" stroke="#000" stroke-width="1.3" fill="none"/>
<text x="44.9" y="855.1" text-anchor="end" font-family="Liberation Serif" font-weight="bold" font-size="16">0</text>
<text x="44.9" y="796.45" text-anchor="end" font-family="Liberation Serif" font-weight="bold" font-size="16">3</text>
<text x="44.9" y="737.8" text-anchor="end" font-family="Liberation Serif" font-weight="bold" font-size="16">6</text>
<text x="44.9" y="679.15" text-anchor="end" font-family="Liberation Serif" font-weight="bold" font-size="16">9</text>
<text x="44.9" y="620.5" text-anchor="end" font-family="Liberation Serif" font-weight="bold" font-size="16">12</text>
<text x="59.1" y="874.5" text-anchor="middle" font-family="Liberation Serif" font-weight="bold" font-size="16">0</text>
<text x="110.22" y="874.5" text-anchor="middle" font-family="Liberation Serif" font-weight="bold" font-size="16">8</text>
<text x="161.34" y="874.5" text-anchor="middle" font-family="Liberation Serif" font-weight="bold" font-size="16">16</text>
<text x="212.46" y="874.5" text-anchor="middle" font-family="Liberation Serif" font-weight="bold" font-size="16">24</text>
<text x="263.58" y="874.5" text-anchor="middle" font-family="Liberation Serif" font-weight="bold" font-size="16">32</text>
<text x="314.7" y="874.5" text-anchor="middle" font-family="Liberation Serif" font-weight="bold" font-size="16">40</text>
<text x="206.3" y="896" text-anchor="middle" font-family="Liberation Serif" font-weight="bold" font-size="16">Time (h)</text>
<text transform="translate(17.6,724) rotate(-90)" text-anchor="middle" font-family="Liberation Serif" font-weight="bold" font-size="16" textLength="175" lengthAdjust="spacing">L&#8211;lysine production (g/L)</text>
<text x="0.5" y="623" font-family="Liberation Serif" font-weight="bold" font-size="17">(c)</text>
<g>
<polyline points="59.1,850.2 71.88,850.2 84.66,850.2 97.44,849.22 110.22,847.27 123,844.34 135.78,838.67 161.34,823.81 186.9,776.89 212.46,731.14 238.02,682.46 263.58,667.02 289.14,670.73 314.7,668.97" stroke="#000000" stroke-width="1.6" fill="none" stroke-linejoin="round"/>
<polyline points="59.1,850.2 71.88,850.2 84.66,850.2 97.44,850.2 110.22,850.2 123,848.64 135.78,844.34 161.34,835.34 186.9,827.13 212.46,810.51 238.02,799.76 263.58,767.89 289.14,748.93 314.7,727.04" stroke="#00B0F0" stroke-width="1.6" fill="none" stroke-linejoin="round"/>
<polyline points="59.1,850.2 71.88,850.2 84.66,849.22 97.44,844.34 110.22,835.34 123,826.35 135.78,809.73 161.34,799.76 186.9,732.31 212.46,698.1 238.02,664.08 263.58,658.81 289.14,661.54 314.7,657.05" stroke="#0000FF" stroke-width="1.6" fill="none" stroke-linejoin="round"/>
<polyline points="59.1,850.2 71.88,850.2 84.66,850.2 97.44,846.29 110.22,839.06 123,833.58 135.78,815.01 161.34,781.58 186.9,709.24 212.46,664.48 238.02,658.41 263.58,649.81 289.14,654.31 314.7,652.55" stroke="#00B050" stroke-width="1.45" fill="none" stroke-linejoin="round"/>
<polyline points="59.1,850.2 71.88,850.2 84.66,848.25 97.44,840.23 110.22,830.85 123,820.88 135.78,805.63 161.34,756.36 186.9,668.19 212.46,657.05 238.02,644.93 263.58,646.88 289.14,642.77 314.7,638.86" stroke="#FF0000" stroke-width="1.6" fill="none" stroke-linejoin="round"/>
<polyline points="59.1,850.2 71.88,850.2 84.66,850.2 97.44,848.64 110.22,846.09 123,840.23 135.78,828.7 161.34,805.24 186.9,763.79 212.46,742.28 238.02,716.87 263.58,709.24 289.14,699.47 314.7,695.95" stroke="#7030A0" stroke-width="1.25" fill="none" stroke-linejoin="round"/>
<path d="M97.44,847.27V850.2M93.84,847.27H101.04M110.22,845.31V849.22M106.62,845.31H113.82M106.62,849.22H113.82M123,841.4V847.27M119.4,841.4H126.6M119.4,847.27H126.6M135.78,834.76V842.58M132.18,834.76H139.38M132.18,842.58H139.38M161.34,814.03V833.58M157.74,814.03H164.94M157.74,833.58H164.94M186.9,767.11V786.66M183.3,767.11H190.5M183.3,786.66H190.5M212.46,725.28V737.01M208.86,725.28H216.06M208.86,737.01H216.06M238.02,675.03V689.89M234.42,675.03H241.62M234.42,689.89H241.62M263.58,659.98V674.05M259.98,659.98H267.18M259.98,674.05H267.18M289.14,661.54V679.92M285.54,661.54H292.74M285.54,679.92H292.74M314.7,655.29V682.66M311.1,655.29H318.3M311.1,682.66H318.3M123,847.66V849.61M119.4,847.66H126.6M119.4,849.61H126.6M135.78,842.38V846.29M132.18,842.38H139.38M132.18,846.29H139.38M161.34,825.57V845.12M157.74,825.57H164.94M157.74,845.12H164.94M186.9,823.22V831.04M183.3,823.22H190.5M183.3,831.04H190.5M212.46,798.78V822.24M208.86,798.78H216.06M208.86,822.24H216.06M238.02,795.85V803.67M234.42,795.85H241.62M234.42,803.67H241.62M263.58,754.21V781.58M259.98,754.21H267.18M259.98,781.58H267.18M289.14,743.07V754.8M285.54,743.07H292.74M285.54,754.8H292.74M314.7,717.26V736.81M311.1,717.26H318.3M311.1,736.81H318.3M97.44,842.38V846.29M93.84,842.38H101.04M93.84,846.29H101.04M110.22,831.43V839.25M106.62,831.43H113.82M106.62,839.25H113.82M123,820.48V832.21M119.4,820.48H126.6M119.4,832.21H126.6M135.78,805.82V813.64M132.18,805.82H139.38M132.18,813.64H139.38M161.34,791.94V807.58M157.74,791.94H164.94M157.74,807.58H164.94M186.9,726.45V738.18M183.3,726.45H190.5M183.3,738.18H190.5M212.46,690.09V706.12M208.86,690.09H216.06M208.86,706.12H216.06M238.02,656.26V671.9M234.42,656.26H241.62M234.42,671.9H241.62M263.58,652.94V664.67M259.98,652.94H267.18M259.98,664.67H267.18M289.14,655.68V667.41M285.54,655.68H292.74M285.54,667.41H292.74M314.7,651.18V662.91M311.1,651.18H318.3M311.1,662.91H318.3M97.44,842.38V850.2M93.84,842.38H101.04M93.84,850.2H101.04M110.22,833.19V844.92M106.62,833.19H113.82M106.62,844.92H113.82M123,825.76V841.4M119.4,825.76H126.6M119.4,841.4H126.6M135.78,808.17V821.85M132.18,808.17H139.38M132.18,821.85H139.38M161.34,769.85V793.31M157.74,769.85H164.94M157.74,793.31H164.94M186.9,695.56V722.93M183.3,695.56H190.5M183.3,722.93H190.5M212.46,656.65V672.3M208.86,656.65H216.06M208.86,672.3H216.06M238.02,650.59V666.23M234.42,650.59H241.62M234.42,666.23H241.62M263.58,643.95V655.68M259.98,643.95H267.18M259.98,655.68H267.18M289.14,648.44V660.17M285.54,648.44H292.74M285.54,660.17H292.74M314.7,644.73V660.37M311.1,644.73H318.3M311.1,660.37H318.3M97.44,832.41V848.05M93.84,832.41H101.04M93.84,848.05H101.04M110.22,817.16V844.53M106.62,817.16H113.82M106.62,844.53H113.82M123,812.08V829.67M119.4,812.08H126.6M119.4,829.67H126.6M135.78,799.76V811.49M132.18,799.76H139.38M132.18,811.49H139.38M161.34,736.81V775.91M157.74,736.81H164.94M157.74,775.91H164.94M186.9,652.75V683.63M183.3,652.75H190.5M183.3,683.63H190.5M212.46,648.44V665.65M208.86,648.44H216.06M208.86,665.65H216.06M238.02,633V656.85M234.42,633H241.62M234.42,656.85H241.62M263.58,633V660.76M259.98,633H267.18M259.98,660.76H267.18M289.14,627.33V658.22M285.54,627.33H292.74M285.54,658.22H292.74M314.7,627.33V650.4M311.1,627.33H318.3M311.1,650.4H318.3M97.44,847.66V849.61M93.84,847.66H101.04M93.84,849.61H101.04M110.22,844.14V848.05M106.62,844.14H113.82M106.62,848.05H113.82M123,836.32V844.14M119.4,836.32H126.6M119.4,844.14H126.6M135.78,822.83V834.56M132.18,822.83H139.38M132.18,834.56H139.38M161.34,793.5V816.97M157.74,793.5H164.94M157.74,816.97H164.94M186.9,752.06V775.52M183.3,752.06H190.5M183.3,775.52H190.5M212.46,736.42V748.15M208.86,736.42H216.06M208.86,748.15H216.06M238.02,707.09V726.64M234.42,707.09H241.62M234.42,726.64H241.62M263.58,695.56V722.93M259.98,695.56H267.18M259.98,722.93H267.18M289.14,693.21V705.73M285.54,693.21H292.74M285.54,705.73H292.74M314.7,682.27V709.64M311.1,682.27H318.3M311.1,709.64H318.3" stroke="#111" stroke-width="1.2" fill="none"/>
<polygon points="59.1,845.8 63.7,853.72 54.5,853.72" fill="#000000"/>
<polygon points="71.88,845.8 76.48,853.72 67.28,853.72" fill="#000000"/>
<polygon points="84.66,845.8 89.26,853.72 80.06,853.72" fill="#000000"/>
<polygon points="97.44,844.82 102.04,852.74 92.84,852.74" fill="#000000"/>
<polygon points="110.22,842.87 114.82,850.79 105.62,850.79" fill="#000000"/>
<polygon points="123,839.94 127.6,847.86 118.4,847.86" fill="#000000"/>
<polygon points="135.78,834.27 140.38,842.19 131.18,842.19" fill="#000000"/>
<polygon points="161.34,819.41 165.94,827.33 156.74,827.33" fill="#000000"/>
<polygon points="186.9,772.49 191.5,780.41 182.3,780.41" fill="#000000"/>
<polygon points="212.46,726.74 217.06,734.66 207.86,734.66" fill="#000000"/>
<polygon points="238.02,678.06 242.62,685.98 233.42,685.98" fill="#000000"/>
<polygon points="263.58,662.62 268.18,670.54 258.98,670.54" fill="#000000"/>
<polygon points="289.14,666.33 293.74,674.25 284.54,674.25" fill="#000000"/>
<polygon points="314.7,664.57 319.3,672.49 310.1,672.49" fill="#000000"/>
<path d="M54.9,846L63.3,854.4M54.9,854.4L63.3,846M59.1,846L59.1,854.4" stroke="#00B0F0" stroke-width="1.5" fill="none"/>
<path d="M67.68,846L76.08,854.4M67.68,854.4L76.08,846M71.88,846L71.88,854.4" stroke="#00B0F0" stroke-width="1.5" fill="none"/>
<path d="M80.46,846L88.86,854.4M80.46,854.4L88.86,846M84.66,846L84.66,854.4" stroke="#00B0F0" stroke-width="1.5" fill="none"/>
<path d="M93.24,846L101.64,854.4M93.24,854.4L101.64,846M97.44,846L97.44,854.4" stroke="#00B0F0" stroke-width="1.5" fill="none"/>
<path d="M106.02,846L114.42,854.4M106.02,854.4L114.42,846M110.22,846L110.22,854.4" stroke="#00B0F0" stroke-width="1.5" fill="none"/>
<path d="M118.8,844.44L127.2,852.84M118.8,852.84L127.2,844.44M123,844.44L123,852.84" stroke="#00B0F0" stroke-width="1.5" fill="none"/>
<path d="M131.58,840.13L139.98,848.54M131.58,848.54L139.98,840.13M135.78,840.13L135.78,848.54" stroke="#00B0F0" stroke-width="1.5" fill="none"/>
<path d="M157.14,831.14L165.54,839.54M157.14,839.54L165.54,831.14M161.34,831.14L161.34,839.54" stroke="#00B0F0" stroke-width="1.5" fill="none"/>
<path d="M182.7,822.93L191.1,831.33M182.7,831.33L191.1,822.93M186.9,822.93L186.9,831.33" stroke="#00B0F0" stroke-width="1.5" fill="none"/>
<path d="M208.26,806.31L216.66,814.71M208.26,814.71L216.66,806.31M212.46,806.31L212.46,814.71" stroke="#00B0F0" stroke-width="1.5" fill="none"/>
<path d="M233.82,795.56L242.22,803.96M233.82,803.96L242.22,795.56M238.02,795.56L238.02,803.96" stroke="#00B0F0" stroke-width="1.5" fill="none"/>
<path d="M259.38,763.69L267.78,772.09M259.38,772.09L267.78,763.69M263.58,763.69L263.58,772.09" stroke="#00B0F0" stroke-width="1.5" fill="none"/>
<path d="M284.94,744.73L293.34,753.13M284.94,753.13L293.34,744.73M289.14,744.73L289.14,753.13" stroke="#00B0F0" stroke-width="1.5" fill="none"/>
<path d="M310.5,722.84L318.9,731.24M310.5,731.24L318.9,722.84M314.7,722.84L314.7,731.24" stroke="#00B0F0" stroke-width="1.5" fill="none"/>
<path d="M55.1,846.2L63.1,854.2M55.1,854.2L63.1,846.2" stroke="#0000FF" stroke-width="1.5" fill="none"/>
<path d="M67.88,846.2L75.88,854.2M67.88,854.2L75.88,846.2" stroke="#0000FF" stroke-width="1.5" fill="none"/>
<path d="M80.66,845.22L88.66,853.22M80.66,853.22L88.66,845.22" stroke="#0000FF" stroke-width="1.5" fill="none"/>
<path d="M93.44,840.34L101.44,848.34M93.44,848.34L101.44,840.34" stroke="#0000FF" stroke-width="1.5" fill="none"/>
<path d="M106.22,831.34L114.22,839.34M106.22,839.34L114.22,831.34" stroke="#0000FF" stroke-width="1.5" fill="none"/>
<path d="M119,822.35L127,830.35M119,830.35L127,822.35" stroke="#0000FF" stroke-width="1.5" fill="none"/>
<path d="M131.78,805.73L139.78,813.73M131.78,813.73L139.78,805.73" stroke="#0000FF" stroke-width="1.5" fill="none"/>
<path d="M157.34,795.76L165.34,803.76M157.34,803.76L165.34,795.76" stroke="#0000FF" stroke-width="1.5" fill="none"/>
<path d="M182.9,728.31L190.9,736.31M182.9,736.31L190.9,728.31" stroke="#0000FF" stroke-width="1.5" fill="none"/>
<path d="M208.46,694.1L216.46,702.1M208.46,702.1L216.46,694.1" stroke="#0000FF" stroke-width="1.5" fill="none"/>
<path d="M234.02,660.08L242.02,668.08M234.02,668.08L242.02,660.08" stroke="#0000FF" stroke-width="1.5" fill="none"/>
<path d="M259.58,654.81L267.58,662.81M259.58,662.81L267.58,654.81" stroke="#0000FF" stroke-width="1.5" fill="none"/>
<path d="M285.14,657.54L293.14,665.54M285.14,665.54L293.14,657.54" stroke="#0000FF" stroke-width="1.5" fill="none"/>
<path d="M310.7,653.05L318.7,661.05M310.7,661.05L318.7,653.05" stroke="#0000FF" stroke-width="1.5" fill="none"/>
<rect x="54.5" y="845.6" width="9.2" height="9.2" fill="#00B050"/>
<rect x="67.28" y="845.6" width="9.2" height="9.2" fill="#00B050"/>
<rect x="80.06" y="845.6" width="9.2" height="9.2" fill="#00B050"/>
<rect x="92.84" y="841.69" width="9.2" height="9.2" fill="#00B050"/>
<rect x="105.62" y="834.46" width="9.2" height="9.2" fill="#00B050"/>
<rect x="118.4" y="828.98" width="9.2" height="9.2" fill="#00B050"/>
<rect x="131.18" y="810.41" width="9.2" height="9.2" fill="#00B050"/>
<rect x="156.74" y="776.98" width="9.2" height="9.2" fill="#00B050"/>
<rect x="182.3" y="704.64" width="9.2" height="9.2" fill="#00B050"/>
<rect x="207.86" y="659.88" width="9.2" height="9.2" fill="#00B050"/>
<rect x="233.42" y="653.81" width="9.2" height="9.2" fill="#00B050"/>
<rect x="258.98" y="645.21" width="9.2" height="9.2" fill="#00B050"/>
<rect x="284.54" y="649.71" width="9.2" height="9.2" fill="#00B050"/>
<rect x="310.1" y="647.95" width="9.2" height="9.2" fill="#00B050"/>
<polygon points="59.1,845.2 64.1,850.2 59.1,855.2 54.1,850.2" fill="#FF0000"/>
<polygon points="71.88,845.2 76.88,850.2 71.88,855.2 66.88,850.2" fill="#FF0000"/>
<polygon points="84.66,843.25 89.66,848.25 84.66,853.25 79.66,848.25" fill="#FF0000"/>
<polygon points="97.44,835.23 102.44,840.23 97.44,845.23 92.44,840.23" fill="#FF0000"/>
<polygon points="110.22,825.85 115.22,830.85 110.22,835.85 105.22,830.85" fill="#FF0000"/>
<polygon points="123,815.88 128,820.88 123,825.88 118,820.88" fill="#FF0000"/>
<polygon points="135.78,800.63 140.78,805.63 135.78,810.63 130.78,805.63" fill="#FF0000"/>
<polygon points="161.34,751.36 166.34,756.36 161.34,761.36 156.34,756.36" fill="#FF0000"/>
<polygon points="186.9,663.19 191.9,668.19 186.9,673.19 181.9,668.19" fill="#FF0000"/>
<polygon points="212.46,652.05 217.46,657.05 212.46,662.05 207.46,657.05" fill="#FF0000"/>
<polygon points="238.02,639.93 243.02,644.93 238.02,649.93 233.02,644.93" fill="#FF0000"/>
<polygon points="263.58,641.88 268.58,646.88 263.58,651.88 258.58,646.88" fill="#FF0000"/>
<polygon points="289.14,637.77 294.14,642.77 289.14,647.77 284.14,642.77" fill="#FF0000"/>
<polygon points="314.7,633.86 319.7,638.86 314.7,643.86 309.7,638.86" fill="#FF0000"/>
<circle cx="59.1" cy="850.2" r="4.45" fill="#7030A0"/>
<circle cx="71.88" cy="850.2" r="4.45" fill="#7030A0"/>
<circle cx="84.66" cy="850.2" r="4.45" fill="#7030A0"/>
<circle cx="97.44" cy="848.64" r="4.45" fill="#7030A0"/>
<circle cx="110.22" cy="846.09" r="4.45" fill="#7030A0"/>
<circle cx="123" cy="840.23" r="4.45" fill="#7030A0"/>
<circle cx="135.78" cy="828.7" r="4.45" fill="#7030A0"/>
<circle cx="161.34" cy="805.24" r="4.45" fill="#7030A0"/>
<circle cx="186.9" cy="763.79" r="4.45" fill="#7030A0"/>
<circle cx="212.46" cy="742.28" r="4.45" fill="#7030A0"/>
<circle cx="238.02" cy="716.87" r="4.45" fill="#7030A0"/>
<circle cx="263.58" cy="709.24" r="4.45" fill="#7030A0"/>
<circle cx="289.14" cy="699.47" r="4.45" fill="#7030A0"/>
<circle cx="314.7" cy="695.95" r="4.45" fill="#7030A0"/>
</g>
<defs><pattern id="pc" patternUnits="userSpaceOnUse" width="5.9" height="5.9"><rect width="5.9" height="5.9" fill="#fff"/><path d="M-1,1 L1,-1 M0,5.9 L5.9,0 M4.9,6.9 L6.9,4.9" stroke="#00A8EC" stroke-width="1.35"/></pattern><pattern id="pg" patternUnits="userSpaceOnUse" width="5.9" height="5.9"><rect width="5.9" height="5.9" fill="#fff"/><path d="M-1,4.9 L1,6.9 M0,0 L5.9,5.9 M4.9,-1 L6.9,1" stroke="#005c00" stroke-width="1.45"/></pattern><pattern id="pb" patternUnits="userSpaceOnUse" width="10" height="2.93" y="0.3"><rect width="10" height="2.93" fill="#dcdcff"/><rect y="0" width="10" height="1.6" fill="#0000FF"/></pattern></defs>
<rect x="66.1" y="1150.9" width="8.13" height="20" fill="#fff" stroke="#000" stroke-width="1.2"/>
<rect x="74.83" y="1156.27" width="9.33" height="14.63" fill="url(#pc)"/>
<rect x="75.18" y="1156.62" width="8.63" height="14.28" fill="none" stroke="#8fdcf8" stroke-width="0.7"/>
<rect x="84.16" y="1123.73" width="9.33" height="47.17" fill="#e2e2ff"/>
<path d="M84.16,1168.4h9.33V1169.9h-9.33zM84.16,1165.47h9.33V1166.97h-9.33zM84.16,1162.54h9.33V1164.04h-9.33zM84.16,1159.61h9.33V1161.11h-9.33zM84.16,1156.68h9.33V1158.18h-9.33zM84.16,1153.75h9.33V1155.25h-9.33zM84.16,1150.82h9.33V1152.32h-9.33zM84.16,1147.89h9.33V1149.39h-9.33zM84.16,1144.96h9.33V1146.46h-9.33zM84.16,1142.03h9.33V1143.53h-9.33zM84.16,1139.1h9.33V1140.6h-9.33zM84.16,1136.17h9.33V1137.67h-9.33zM84.16,1133.24h9.33V1134.74h-9.33zM84.16,1130.31h9.33V1131.81h-9.33zM84.16,1127.38h9.33V1128.88h-9.33zM84.16,1124.45h9.33V1125.95h-9.33z" fill="#0000FF"/>
<rect x="84.51" y="1124.08" width="8.63" height="46.82" fill="none" stroke="#5050f0" stroke-width="0.7"/>
<rect x="93.49" y="1096.95" width="9.33" height="73.95" fill="url(#pg)"/>
<rect x="93.84" y="1097.3" width="8.63" height="73.6" fill="none" stroke="#7fd6a6" stroke-width="0.7"/>
<rect x="102.82" y="1061.72" width="9.33" height="109.18" fill="#fff"/>
<rect x="104.72" y="1061.72" width="1.7" height="109.18" fill="#FF0000"/>
<rect x="107.67" y="1061.72" width="1.7" height="109.18" fill="#FF0000"/>
<rect x="110.62" y="1061.72" width="1.7" height="109.18" fill="#FF0000"/>
<rect x="103.17" y="1062.07" width="8.63" height="108.83" fill="none" stroke="#ff8080" stroke-width="0.7"/>
<text x="88.83" y="1192.3" text-anchor="middle" font-family="Liberation Serif" font-weight="bold" font-style="italic" font-size="14">lysC</text>
<rect x="126.55" y="1150.9" width="8.13" height="20" fill="#fff" stroke="#000" stroke-width="1.2"/>
<rect x="135.28" y="1127.85" width="9.33" height="43.05" fill="url(#pc)"/>
<rect x="135.63" y="1128.2" width="8.63" height="42.7" fill="none" stroke="#8fdcf8" stroke-width="0.7"/>
<rect x="144.61" y="1113.22" width="9.33" height="57.68" fill="#e2e2ff"/>
<path d="M144.61,1168.4h9.33V1169.9h-9.33zM144.61,1165.47h9.33V1166.97h-9.33zM144.61,1162.54h9.33V1164.04h-9.33zM144.61,1159.61h9.33V1161.11h-9.33zM144.61,1156.68h9.33V1158.18h-9.33zM144.61,1153.75h9.33V1155.25h-9.33zM144.61,1150.82h9.33V1152.32h-9.33zM144.61,1147.89h9.33V1149.39h-9.33zM144.61,1144.96h9.33V1146.46h-9.33zM144.61,1142.03h9.33V1143.53h-9.33zM144.61,1139.1h9.33V1140.6h-9.33zM144.61,1136.17h9.33V1137.67h-9.33zM144.61,1133.24h9.33V1134.74h-9.33zM144.61,1130.31h9.33V1131.81h-9.33zM144.61,1127.38h9.33V1128.88h-9.33zM144.61,1124.45h9.33V1125.95h-9.33zM144.61,1121.52h9.33V1123.02h-9.33zM144.61,1118.59h9.33V1120.09h-9.33zM144.61,1115.66h9.33V1117.16h-9.33zM144.61,1113.22h9.33V1114.23h-9.33z" fill="#0000FF"/>
<rect x="144.96" y="1113.57" width="8.63" height="57.33" fill="none" stroke="#5050f0" stroke-width="0.7"/>
<rect x="153.94" y="1123.73" width="9.33" height="47.17" fill="url(#pg)"/>
<rect x="154.29" y="1124.08" width="8.63" height="46.82" fill="none" stroke="#7fd6a6" stroke-width="0.7"/>
<rect x="163.27" y="1136.29" width="9.33" height="34.61" fill="#fff"/>
<rect x="165.17" y="1136.29" width="1.7" height="34.61" fill="#FF0000"/>
<rect x="168.12" y="1136.29" width="1.7" height="34.61" fill="#FF0000"/>
<rect x="171.07" y="1136.29" width="1.7" height="34.61" fill="#FF0000"/>
<rect x="163.62" y="1136.64" width="8.63" height="34.26" fill="none" stroke="#ff8080" stroke-width="0.7"/>
<text x="149.28" y="1192.3" text-anchor="middle" font-family="Liberation Serif" font-weight="bold" font-style="italic" font-size="14">metL</text>
<rect x="187" y="1150.9" width="8.13" height="20" fill="#fff" stroke="#000" stroke-width="1.2"/>
<rect x="195.73" y="1140.62" width="9.33" height="30.28" fill="url(#pc)"/>
<rect x="196.08" y="1140.97" width="8.63" height="29.93" fill="none" stroke="#8fdcf8" stroke-width="0.7"/>
<rect x="205.06" y="1131.55" width="9.33" height="39.35" fill="#e2e2ff"/>
<path d="M205.06,1168.4h9.33V1169.9h-9.33zM205.06,1165.47h9.33V1166.97h-9.33zM205.06,1162.54h9.33V1164.04h-9.33zM205.06,1159.61h9.33V1161.11h-9.33zM205.06,1156.68h9.33V1158.18h-9.33zM205.06,1153.75h9.33V1155.25h-9.33zM205.06,1150.82h9.33V1152.32h-9.33zM205.06,1147.89h9.33V1149.39h-9.33zM205.06,1144.96h9.33V1146.46h-9.33zM205.06,1142.03h9.33V1143.53h-9.33zM205.06,1139.1h9.33V1140.6h-9.33zM205.06,1136.17h9.33V1137.67h-9.33zM205.06,1133.24h9.33V1134.74h-9.33zM205.06,1131.55h9.33V1131.81h-9.33z" fill="#0000FF"/>
<rect x="205.41" y="1131.9" width="8.63" height="39" fill="none" stroke="#5050f0" stroke-width="0.7"/>
<rect x="214.39" y="1140.62" width="9.33" height="30.28" fill="url(#pg)"/>
<rect x="214.74" y="1140.97" width="8.63" height="29.93" fill="none" stroke="#7fd6a6" stroke-width="0.7"/>
<rect x="223.72" y="1146.18" width="9.33" height="24.72" fill="#fff"/>
<rect x="225.62" y="1146.18" width="1.7" height="24.72" fill="#FF0000"/>
<rect x="228.57" y="1146.18" width="1.7" height="24.72" fill="#FF0000"/>
<rect x="231.52" y="1146.18" width="1.7" height="24.72" fill="#FF0000"/>
<rect x="224.07" y="1146.53" width="8.63" height="24.37" fill="none" stroke="#ff8080" stroke-width="0.7"/>
<text x="209.72" y="1192.3" text-anchor="middle" font-family="Liberation Serif" font-weight="bold" font-style="italic" font-size="14">thrA</text>
<rect x="247.45" y="1150.9" width="8.13" height="20" fill="#fff" stroke="#000" stroke-width="1.2"/>
<rect x="256.18" y="1123.73" width="9.33" height="47.17" fill="url(#pc)"/>
<rect x="256.53" y="1124.08" width="8.63" height="46.82" fill="none" stroke="#8fdcf8" stroke-width="0.7"/>
<rect x="265.51" y="1092.83" width="9.33" height="78.07" fill="#e2e2ff"/>
<path d="M265.51,1168.4h9.33V1169.9h-9.33zM265.51,1165.47h9.33V1166.97h-9.33zM265.51,1162.54h9.33V1164.04h-9.33zM265.51,1159.61h9.33V1161.11h-9.33zM265.51,1156.68h9.33V1158.18h-9.33zM265.51,1153.75h9.33V1155.25h-9.33zM265.51,1150.82h9.33V1152.32h-9.33zM265.51,1147.89h9.33V1149.39h-9.33zM265.51,1144.96h9.33V1146.46h-9.33zM265.51,1142.03h9.33V1143.53h-9.33zM265.51,1139.1h9.33V1140.6h-9.33zM265.51,1136.17h9.33V1137.67h-9.33zM265.51,1133.24h9.33V1134.74h-9.33zM265.51,1130.31h9.33V1131.81h-9.33zM265.51,1127.38h9.33V1128.88h-9.33zM265.51,1124.45h9.33V1125.95h-9.33zM265.51,1121.52h9.33V1123.02h-9.33zM265.51,1118.59h9.33V1120.09h-9.33zM265.51,1115.66h9.33V1117.16h-9.33zM265.51,1112.73h9.33V1114.23h-9.33zM265.51,1109.8h9.33V1111.3h-9.33zM265.51,1106.87h9.33V1108.37h-9.33zM265.51,1103.94h9.33V1105.44h-9.33zM265.51,1101.01h9.33V1102.51h-9.33zM265.51,1098.08h9.33V1099.58h-9.33zM265.51,1095.15h9.33V1096.65h-9.33zM265.51,1092.83h9.33V1093.72h-9.33z" fill="#0000FF"/>
<rect x="265.86" y="1093.18" width="8.63" height="77.72" fill="none" stroke="#5050f0" stroke-width="0.7"/>
<rect x="274.84" y="1086.23" width="9.33" height="84.67" fill="url(#pg)"/>
<rect x="275.19" y="1086.58" width="8.63" height="84.32" fill="none" stroke="#7fd6a6" stroke-width="0.7"/>
<rect x="284.17" y="1059.66" width="9.33" height="111.24" fill="#fff"/>
<rect x="286.07" y="1059.66" width="1.7" height="111.24" fill="#FF0000"/>
<rect x="289.02" y="1059.66" width="1.7" height="111.24" fill="#FF0000"/>
<rect x="291.97" y="1059.66" width="1.7" height="111.24" fill="#FF0000"/>
<rect x="284.52" y="1060.01" width="8.63" height="110.89" fill="none" stroke="#ff8080" stroke-width="0.7"/>
<text x="270.18" y="1192.3" text-anchor="middle" font-family="Liberation Serif" font-weight="bold" font-style="italic" font-size="14">asd</text>
<rect x="307.9" y="1150.9" width="8.13" height="20" fill="#fff" stroke="#000" stroke-width="1.2"/>
<rect x="316.63" y="1158.54" width="9.33" height="12.36" fill="url(#pc)"/>
<rect x="316.98" y="1158.89" width="8.63" height="12.01" fill="none" stroke="#8fdcf8" stroke-width="0.7"/>
<rect x="325.96" y="1119.4" width="9.33" height="51.5" fill="#e2e2ff"/>
<path d="M325.96,1168.4h9.33V1169.9h-9.33zM325.96,1165.47h9.33V1166.97h-9.33zM325.96,1162.54h9.33V1164.04h-9.33zM325.96,1159.61h9.33V1161.11h-9.33zM325.96,1156.68h9.33V1158.18h-9.33zM325.96,1153.75h9.33V1155.25h-9.33zM325.96,1150.82h9.33V1152.32h-9.33zM325.96,1147.89h9.33V1149.39h-9.33zM325.96,1144.96h9.33V1146.46h-9.33zM325.96,1142.03h9.33V1143.53h-9.33zM325.96,1139.1h9.33V1140.6h-9.33zM325.96,1136.17h9.33V1137.67h-9.33zM325.96,1133.24h9.33V1134.74h-9.33zM325.96,1130.31h9.33V1131.81h-9.33zM325.96,1127.38h9.33V1128.88h-9.33zM325.96,1124.45h9.33V1125.95h-9.33zM325.96,1121.52h9.33V1123.02h-9.33zM325.96,1119.4h9.33V1120.09h-9.33z" fill="#0000FF"/>
<rect x="326.31" y="1119.75" width="8.63" height="51.15" fill="none" stroke="#5050f0" stroke-width="0.7"/>
<rect x="335.29" y="1107.04" width="9.33" height="63.86" fill="url(#pg)"/>
<rect x="335.64" y="1107.39" width="8.63" height="63.51" fill="none" stroke="#7fd6a6" stroke-width="0.7"/>
<rect x="344.62" y="1076.14" width="9.33" height="94.76" fill="#fff"/>
<rect x="346.52" y="1076.14" width="1.7" height="94.76" fill="#FF0000"/>
<rect x="349.47" y="1076.14" width="1.7" height="94.76" fill="#FF0000"/>
<rect x="352.42" y="1076.14" width="1.7" height="94.76" fill="#FF0000"/>
<rect x="344.97" y="1076.49" width="8.63" height="94.41" fill="none" stroke="#ff8080" stroke-width="0.7"/>
<text x="330.63" y="1192.3" text-anchor="middle" font-family="Liberation Serif" font-weight="bold" font-style="italic" font-size="14">dapA</text>
<rect x="368.35" y="1150.9" width="8.13" height="20" fill="#fff" stroke="#000" stroke-width="1.2"/>
<rect x="377.08" y="1152.77" width="9.33" height="18.13" fill="url(#pc)"/>
<rect x="377.43" y="1153.12" width="8.63" height="17.78" fill="none" stroke="#8fdcf8" stroke-width="0.7"/>
<rect x="386.41" y="1113.22" width="9.33" height="57.68" fill="#e2e2ff"/>
<path d="M386.41,1168.4h9.33V1169.9h-9.33zM386.41,1165.47h9.33V1166.97h-9.33zM386.41,1162.54h9.33V1164.04h-9.33zM386.41,1159.61h9.33V1161.11h-9.33zM386.41,1156.68h9.33V1158.18h-9.33zM386.41,1153.75h9.33V1155.25h-9.33zM386.41,1150.82h9.33V1152.32h-9.33zM386.41,1147.89h9.33V1149.39h-9.33zM386.41,1144.96h9.33V1146.46h-9.33zM386.41,1142.03h9.33V1143.53h-9.33zM386.41,1139.1h9.33V1140.6h-9.33zM386.41,1136.17h9.33V1137.67h-9.33zM386.41,1133.24h9.33V1134.74h-9.33zM386.41,1130.31h9.33V1131.81h-9.33zM386.41,1127.38h9.33V1128.88h-9.33zM386.41,1124.45h9.33V1125.95h-9.33zM386.41,1121.52h9.33V1123.02h-9.33zM386.41,1118.59h9.33V1120.09h-9.33zM386.41,1115.66h9.33V1117.16h-9.33zM386.41,1113.22h9.33V1114.23h-9.33z" fill="#0000FF"/>
<rect x="386.76" y="1113.57" width="8.63" height="57.33" fill="none" stroke="#5050f0" stroke-width="0.7"/>
<rect x="395.74" y="1094.68" width="9.33" height="76.22" fill="url(#pg)"/>
<rect x="396.09" y="1095.03" width="8.63" height="75.87" fill="none" stroke="#7fd6a6" stroke-width="0.7"/>
<rect x="405.07" y="1069.96" width="9.33" height="100.94" fill="#fff"/>
<rect x="406.97" y="1069.96" width="1.7" height="100.94" fill="#FF0000"/>
<rect x="409.92" y="1069.96" width="1.7" height="100.94" fill="#FF0000"/>
<rect x="412.87" y="1069.96" width="1.7" height="100.94" fill="#FF0000"/>
<rect x="405.42" y="1070.31" width="8.63" height="100.59" fill="none" stroke="#ff8080" stroke-width="0.7"/>
<text x="391.08" y="1192.3" text-anchor="middle" font-family="Liberation Serif" font-weight="bold" font-style="italic" font-size="14">dapB</text>
<rect x="428.8" y="1150.9" width="8.13" height="20" fill="#fff" stroke="#000" stroke-width="1.2"/>
<rect x="446.86" y="999.71" width="9.33" height="171.19" fill="#e2e2ff"/>
<path d="M446.86,1168.4h9.33V1169.9h-9.33zM446.86,1165.47h9.33V1166.97h-9.33zM446.86,1162.54h9.33V1164.04h-9.33zM446.86,1159.61h9.33V1161.11h-9.33zM446.86,1156.68h9.33V1158.18h-9.33zM446.86,1153.75h9.33V1155.25h-9.33zM446.86,1150.82h9.33V1152.32h-9.33zM446.86,1147.89h9.33V1149.39h-9.33zM446.86,1144.96h9.33V1146.46h-9.33zM446.86,1142.03h9.33V1143.53h-9.33zM446.86,1139.1h9.33V1140.6h-9.33zM446.86,1136.17h9.33V1137.67h-9.33zM446.86,1133.24h9.33V1134.74h-9.33zM446.86,1130.31h9.33V1131.81h-9.33zM446.86,1127.38h9.33V1128.88h-9.33zM446.86,1124.45h9.33V1125.95h-9.33zM446.86,1121.52h9.33V1123.02h-9.33zM446.86,1118.59h9.33V1120.09h-9.33zM446.86,1115.66h9.33V1117.16h-9.33zM446.86,1112.73h9.33V1114.23h-9.33zM446.86,1109.8h9.33V1111.3h-9.33zM446.86,1106.87h9.33V1108.37h-9.33zM446.86,1103.94h9.33V1105.44h-9.33zM446.86,1101.01h9.33V1102.51h-9.33zM446.86,1098.08h9.33V1099.58h-9.33zM446.86,1095.15h9.33V1096.65h-9.33zM446.86,1092.22h9.33V1093.72h-9.33zM446.86,1089.29h9.33V1090.79h-9.33zM446.86,1086.36h9.33V1087.86h-9.33zM446.86,1083.43h9.33V1084.93h-9.33zM446.86,1080.5h9.33V1082h-9.33zM446.86,1077.57h9.33V1079.07h-9.33zM446.86,1074.64h9.33V1076.14h-9.33zM446.86,1071.71h9.33V1073.21h-9.33zM446.86,1068.78h9.33V1070.28h-9.33zM446.86,1065.85h9.33V1067.35h-9.33zM446.86,1062.92h9.33V1064.42h-9.33zM446.86,1059.99h9.33V1061.49h-9.33zM446.86,1057.06h9.33V1058.56h-9.33zM446.86,1054.13h9.33V1055.63h-9.33zM446.86,1051.2h9.33V1052.7h-9.33zM446.86,1048.27h9.33V1049.77h-9.33zM446.86,1045.34h9.33V1046.84h-9.33zM446.86,1042.41h9.33V1043.91h-9.33zM446.86,1039.48h9.33V1040.98h-9.33zM446.86,1036.55h9.33V1038.05h-9.33zM446.86,1033.62h9.33V1035.12h-9.33zM446.86,1030.69h9.33V1032.19h-9.33zM446.86,1027.76h9.33V1029.26h-9.33zM446.86,1024.83h9.33V1026.33h-9.33zM446.86,1021.9h9.33V1023.4h-9.33zM446.86,1018.97h9.33V1020.47h-9.33zM446.86,1016.04h9.33V1017.54h-9.33zM446.86,1013.11h9.33V1014.61h-9.33zM446.86,1010.18h9.33V1011.68h-9.33zM446.86,1007.25h9.33V1008.75h-9.33zM446.86,1004.32h9.33V1005.82h-9.33zM446.86,1001.39h9.33V1002.89h-9.33zM446.86,999.71h9.33V999.96h-9.33z" fill="#0000FF"/>
<rect x="447.21" y="1000.06" width="8.63" height="170.84" fill="none" stroke="#5050f0" stroke-width="0.7"/>
<rect x="456.19" y="981.17" width="9.33" height="189.73" fill="url(#pg)"/>
<rect x="456.54" y="981.52" width="8.63" height="189.38" fill="none" stroke="#7fd6a6" stroke-width="0.7"/>
<rect x="465.52" y="929.26" width="9.33" height="241.64" fill="#fff"/>
<rect x="467.42" y="929.26" width="1.7" height="241.64" fill="#FF0000"/>
<rect x="470.37" y="929.26" width="1.7" height="241.64" fill="#FF0000"/>
<rect x="473.32" y="929.26" width="1.7" height="241.64" fill="#FF0000"/>
<rect x="465.87" y="929.61" width="8.63" height="241.29" fill="none" stroke="#ff8080" stroke-width="0.7"/>
<text x="451.53" y="1192.3" text-anchor="middle" font-family="Liberation Serif" font-weight="bold" font-style="italic" font-size="14">ddh</text>
<rect x="489.25" y="1150.9" width="8.13" height="20" fill="#fff" stroke="#000" stroke-width="1.2"/>
<rect x="497.98" y="1163.28" width="9.33" height="7.62" fill="url(#pc)"/>
<rect x="498.33" y="1163.63" width="8.63" height="7.27" fill="none" stroke="#8fdcf8" stroke-width="0.7"/>
<rect x="516.64" y="1144.12" width="9.33" height="26.78" fill="url(#pg)"/>
<rect x="516.99" y="1144.47" width="8.63" height="26.43" fill="none" stroke="#7fd6a6" stroke-width="0.7"/>
<rect x="525.97" y="1156.69" width="9.33" height="14.21" fill="#fff"/>
<rect x="527.87" y="1156.69" width="1.7" height="14.21" fill="#FF0000"/>
<rect x="530.82" y="1156.69" width="1.7" height="14.21" fill="#FF0000"/>
<rect x="533.77" y="1156.69" width="1.7" height="14.21" fill="#FF0000"/>
<rect x="526.32" y="1157.04" width="8.63" height="13.86" fill="none" stroke="#ff8080" stroke-width="0.7"/>
<text x="511.98" y="1192.3" text-anchor="middle" font-family="Liberation Serif" font-weight="bold" font-style="italic" font-size="14">dapD</text>
<rect x="549.7" y="1150.9" width="8.13" height="20" fill="#fff" stroke="#000" stroke-width="1.2"/>
<rect x="558.43" y="1157.51" width="9.33" height="13.39" fill="url(#pc)"/>
<rect x="558.78" y="1157.86" width="8.63" height="13.04" fill="none" stroke="#8fdcf8" stroke-width="0.7"/>
<rect x="577.09" y="1138.35" width="9.33" height="32.55" fill="url(#pg)"/>
<rect x="577.44" y="1138.7" width="8.63" height="32.2" fill="none" stroke="#7fd6a6" stroke-width="0.7"/>
<rect x="586.42" y="1154.21" width="9.33" height="16.69" fill="#fff"/>
<rect x="588.32" y="1154.21" width="1.7" height="16.69" fill="#FF0000"/>
<rect x="591.27" y="1154.21" width="1.7" height="16.69" fill="#FF0000"/>
<rect x="594.22" y="1154.21" width="1.7" height="16.69" fill="#FF0000"/>
<rect x="586.77" y="1154.56" width="8.63" height="16.34" fill="none" stroke="#ff8080" stroke-width="0.7"/>
<text x="572.43" y="1192.3" text-anchor="middle" font-family="Liberation Serif" font-weight="bold" font-style="italic" font-size="14">dapC</text>
<rect x="610.15" y="1150.9" width="8.13" height="20" fill="#fff" stroke="#000" stroke-width="1.2"/>
<rect x="618.88" y="1155.66" width="9.33" height="15.24" fill="url(#pc)"/>
<rect x="619.23" y="1156.01" width="8.63" height="14.89" fill="none" stroke="#8fdcf8" stroke-width="0.7"/>
<rect x="637.54" y="1148.65" width="9.33" height="22.25" fill="url(#pg)"/>
<rect x="637.89" y="1149" width="8.63" height="21.9" fill="none" stroke="#7fd6a6" stroke-width="0.7"/>
<rect x="646.87" y="1152.98" width="9.33" height="17.92" fill="#fff"/>
<rect x="648.77" y="1152.98" width="1.7" height="17.92" fill="#FF0000"/>
<rect x="651.72" y="1152.98" width="1.7" height="17.92" fill="#FF0000"/>
<rect x="654.67" y="1152.98" width="1.7" height="17.92" fill="#FF0000"/>
<rect x="647.22" y="1153.33" width="8.63" height="17.57" fill="none" stroke="#ff8080" stroke-width="0.7"/>
<text x="632.88" y="1192.3" text-anchor="middle" font-family="Liberation Serif" font-weight="bold" font-style="italic" font-size="14">dapE</text>
<rect x="670.6" y="1150.9" width="8.13" height="20" fill="#fff" stroke="#000" stroke-width="1.2"/>
<rect x="679.33" y="1155.66" width="9.33" height="15.24" fill="url(#pc)"/>
<rect x="679.68" y="1156.01" width="8.63" height="14.89" fill="none" stroke="#8fdcf8" stroke-width="0.7"/>
<rect x="697.99" y="1144.33" width="9.33" height="26.57" fill="url(#pg)"/>
<rect x="698.34" y="1144.68" width="8.63" height="26.22" fill="none" stroke="#7fd6a6" stroke-width="0.7"/>
<rect x="707.32" y="1154.42" width="9.33" height="16.48" fill="#fff"/>
<rect x="709.22" y="1154.42" width="1.7" height="16.48" fill="#FF0000"/>
<rect x="712.17" y="1154.42" width="1.7" height="16.48" fill="#FF0000"/>
<rect x="715.12" y="1154.42" width="1.7" height="16.48" fill="#FF0000"/>
<rect x="707.67" y="1154.77" width="8.63" height="16.13" fill="none" stroke="#ff8080" stroke-width="0.7"/>
<text x="693.33" y="1192.3" text-anchor="middle" font-family="Liberation Serif" font-weight="bold" font-style="italic" font-size="14">dapF</text>
<rect x="731.05" y="1150.9" width="8.13" height="20" fill="#fff" stroke="#000" stroke-width="1.2"/>
<rect x="739.78" y="1155.66" width="9.33" height="15.24" fill="url(#pc)"/>
<rect x="740.13" y="1156.01" width="8.63" height="14.89" fill="none" stroke="#8fdcf8" stroke-width="0.7"/>
<rect x="749.11" y="1107.04" width="9.33" height="63.86" fill="#e2e2ff"/>
<path d="M749.11,1168.4h9.33V1169.9h-9.33zM749.11,1165.47h9.33V1166.97h-9.33zM749.11,1162.54h9.33V1164.04h-9.33zM749.11,1159.61h9.33V1161.11h-9.33zM749.11,1156.68h9.33V1158.18h-9.33zM749.11,1153.75h9.33V1155.25h-9.33zM749.11,1150.82h9.33V1152.32h-9.33zM749.11,1147.89h9.33V1149.39h-9.33zM749.11,1144.96h9.33V1146.46h-9.33zM749.11,1142.03h9.33V1143.53h-9.33zM749.11,1139.1h9.33V1140.6h-9.33zM749.11,1136.17h9.33V1137.67h-9.33zM749.11,1133.24h9.33V1134.74h-9.33zM749.11,1130.31h9.33V1131.81h-9.33zM749.11,1127.38h9.33V1128.88h-9.33zM749.11,1124.45h9.33V1125.95h-9.33zM749.11,1121.52h9.33V1123.02h-9.33zM749.11,1118.59h9.33V1120.09h-9.33zM749.11,1115.66h9.33V1117.16h-9.33zM749.11,1112.73h9.33V1114.23h-9.33zM749.11,1109.8h9.33V1111.3h-9.33zM749.11,1107.04h9.33V1108.37h-9.33z" fill="#0000FF"/>
<rect x="749.46" y="1107.39" width="8.63" height="63.51" fill="none" stroke="#5050f0" stroke-width="0.7"/>
<rect x="758.44" y="1088.5" width="9.33" height="82.4" fill="url(#pg)"/>
<rect x="758.79" y="1088.85" width="8.63" height="82.05" fill="none" stroke="#7fd6a6" stroke-width="0.7"/>
<rect x="767.77" y="1049.36" width="9.33" height="121.54" fill="#fff"/>
<rect x="769.67" y="1049.36" width="1.7" height="121.54" fill="#FF0000"/>
<rect x="772.62" y="1049.36" width="1.7" height="121.54" fill="#FF0000"/>
<rect x="775.57" y="1049.36" width="1.7" height="121.54" fill="#FF0000"/>
<rect x="768.12" y="1049.71" width="8.63" height="121.19" fill="none" stroke="#ff8080" stroke-width="0.7"/>
<text x="753.78" y="1192.3" text-anchor="middle" font-family="Liberation Serif" font-weight="bold" font-style="italic" font-size="14">lysA</text>
<rect x="791.5" y="1150.9" width="8.13" height="20" fill="#fff" stroke="#000" stroke-width="1.2"/>
<rect x="800.23" y="1152.98" width="9.33" height="17.92" fill="url(#pc)"/>
<rect x="800.58" y="1153.33" width="8.63" height="17.57" fill="none" stroke="#8fdcf8" stroke-width="0.7"/>
<rect x="809.56" y="1096.53" width="9.33" height="74.37" fill="#e2e2ff"/>
<path d="M809.56,1168.4h9.33V1169.9h-9.33zM809.56,1165.47h9.33V1166.97h-9.33zM809.56,1162.54h9.33V1164.04h-9.33zM809.56,1159.61h9.33V1161.11h-9.33zM809.56,1156.68h9.33V1158.18h-9.33zM809.56,1153.75h9.33V1155.25h-9.33zM809.56,1150.82h9.33V1152.32h-9.33zM809.56,1147.89h9.33V1149.39h-9.33zM809.56,1144.96h9.33V1146.46h-9.33zM809.56,1142.03h9.33V1143.53h-9.33zM809.56,1139.1h9.33V1140.6h-9.33zM809.56,1136.17h9.33V1137.67h-9.33zM809.56,1133.24h9.33V1134.74h-9.33zM809.56,1130.31h9.33V1131.81h-9.33zM809.56,1127.38h9.33V1128.88h-9.33zM809.56,1124.45h9.33V1125.95h-9.33zM809.56,1121.52h9.33V1123.02h-9.33zM809.56,1118.59h9.33V1120.09h-9.33zM809.56,1115.66h9.33V1117.16h-9.33zM809.56,1112.73h9.33V1114.23h-9.33zM809.56,1109.8h9.33V1111.3h-9.33zM809.56,1106.87h9.33V1108.37h-9.33zM809.56,1103.94h9.33V1105.44h-9.33zM809.56,1101.01h9.33V1102.51h-9.33zM809.56,1098.08h9.33V1099.58h-9.33z" fill="#0000FF"/>
<rect x="809.91" y="1096.88" width="8.63" height="74.02" fill="none" stroke="#5050f0" stroke-width="0.7"/>
<rect x="818.89" y="1073.87" width="9.33" height="97.03" fill="url(#pg)"/>
<rect x="819.24" y="1074.22" width="8.63" height="96.68" fill="none" stroke="#7fd6a6" stroke-width="0.7"/>
<rect x="828.22" y="1034.94" width="9.33" height="135.96" fill="#fff"/>
<rect x="830.12" y="1034.94" width="1.7" height="135.96" fill="#FF0000"/>
<rect x="833.07" y="1034.94" width="1.7" height="135.96" fill="#FF0000"/>
<rect x="836.02" y="1034.94" width="1.7" height="135.96" fill="#FF0000"/>
<rect x="828.57" y="1035.29" width="8.63" height="135.61" fill="none" stroke="#ff8080" stroke-width="0.7"/>
<text x="814.23" y="1192.3" text-anchor="middle" font-family="Liberation Serif" font-weight="bold" font-style="italic" font-size="14">lysP</text>
<path d="M79.5,1147.83V1164.72M75.8,1147.83H83.2M75.8,1164.72H83.2M88.83,1119.61V1127.85M85.12,1119.61H92.53M85.12,1127.85H92.53M98.16,1082.32V1111.57M94.46,1082.32H101.86M94.46,1111.57H101.86M107.48,1058.22V1065.22M103.78,1058.22H111.19M103.78,1065.22H111.19M139.95,1123.93V1131.76M136.25,1123.93H143.65M136.25,1131.76H143.65M149.28,1098.59V1127.85M145.58,1098.59H152.97M145.58,1127.85H152.97M158.61,1111.78V1135.67M154.91,1111.78H162.31M154.91,1135.67H162.31M167.94,1129.7V1142.88M164.24,1129.7H171.63M164.24,1142.88H171.63M200.4,1134.23V1147M196.7,1134.23H204.09M196.7,1147H204.09M209.72,1119.19V1143.91M206.03,1119.19H213.42M206.03,1143.91H213.42M219.06,1126.2V1155.04M215.36,1126.2H222.75M215.36,1155.04H222.75M228.38,1134.23V1158.13M224.69,1134.23H232.08M224.69,1158.13H232.08M260.85,1109.31V1138.15M257.15,1109.31H264.55M257.15,1138.15H264.55M270.18,1085V1100.65M266.48,1085H273.88M266.48,1100.65H273.88M279.51,1073.87V1098.59M275.81,1073.87H283.21M275.81,1098.59H283.21M288.84,1053.07V1066.25M285.14,1053.07H292.54M285.14,1066.25H292.54M321.3,1152.36V1164.72M317.6,1152.36H325M317.6,1164.72H325M330.63,1104.77V1134.03M326.93,1104.77H334.33M326.93,1134.03H334.33M339.96,1096.95V1117.13M336.26,1096.95H343.66M336.26,1117.13H343.66M349.29,1061.51V1090.77M345.59,1061.51H352.99M345.59,1090.77H352.99M381.75,1148.65V1156.89M378.05,1148.65H385.44M378.05,1156.89H385.44M391.08,1109.51V1116.93M387.38,1109.51H394.78M387.38,1116.93H394.78M400.41,1076.14V1113.22M396.71,1076.14H404.11M396.71,1113.22H404.11M409.74,1046.89V1093.03M406.04,1046.89H413.44M406.04,1093.03H413.44M451.53,985.71V1013.72M447.83,985.71H455.23M447.83,1013.72H455.23M460.86,948.21V1014.13M457.16,948.21H464.56M457.16,1014.13H464.56M470.19,923.7V956.04M466.49,956.04H473.89M502.65,1160.81V1165.75M498.95,1160.81H506.35M498.95,1165.75H506.35M521.3,1128.46V1159.78M517.6,1128.46H525M517.6,1159.78H525M530.63,1144.12V1169.25M526.93,1144.12H534.34M526.93,1169.25H534.34M563.1,1154.63V1160.39M559.39,1154.63H566.8M559.39,1160.39H566.8M581.75,1134.23V1142.47M578.05,1134.23H585.46M578.05,1142.47H585.46M591.09,1146.59V1161.84M587.38,1146.59H594.79M587.38,1161.84H594.79M623.55,1149.68V1161.63M619.85,1149.68H627.25M619.85,1161.63H627.25M642.21,1142.47V1154.83M638.5,1142.47H645.91M638.5,1154.83H645.91M651.54,1148.86V1157.1M647.84,1148.86H655.24M647.84,1157.1H655.24M684,1152.15V1159.16M680.29,1152.15H687.7M680.29,1159.16H687.7M702.65,1129.7V1158.95M698.95,1129.7H706.36M698.95,1158.95H706.36M711.99,1143.5V1165.34M708.28,1143.5H715.69M708.28,1165.34H715.69M744.45,1151.54V1159.78M740.75,1151.54H748.15M740.75,1159.78H748.15M753.77,1098.8V1115.28M750.07,1098.8H757.48M750.07,1115.28H757.48M763.11,1063.78V1113.22M759.4,1063.78H766.81M759.4,1113.22H766.81M772.44,1041.12V1057.6M768.74,1041.12H776.14M768.74,1057.6H776.14M804.9,1146.59V1159.36M801.2,1146.59H808.6M801.2,1159.36H808.6M814.23,1082.11V1110.95M810.52,1082.11H817.93M810.52,1110.95H817.93M823.56,1063.57V1084.17M819.86,1063.57H827.26M819.86,1084.17H827.26M832.89,1005.69V1064.19M829.19,1005.69H836.59M829.19,1064.19H836.59" stroke="#2a2a2a" stroke-width="1" fill="none"/>
<path d="M58.6,923.7V1170.9H844.45" stroke="#000" stroke-width="1.5" fill="none"/>
<path d="M53.9,1170.9H58.6M55.4,1140H58.6M53.9,1109.1H58.6M55.4,1078.2H58.6M53.9,1047.3H58.6M55.4,1016.4H58.6M53.9,985.5H58.6M55.4,954.6H58.6M53.9,923.7H58.6M58.6,1170.9V1174.9M119.05,1170.9V1174.9M179.5,1170.9V1174.9M239.95,1170.9V1174.9M300.4,1170.9V1174.9M360.85,1170.9V1174.9M421.3,1170.9V1174.9M481.75,1170.9V1174.9M542.2,1170.9V1174.9M602.65,1170.9V1174.9M663.1,1170.9V1174.9M723.55,1170.9V1174.9M784,1170.9V1174.9M844.45,1170.9V1174.9" stroke="#000" stroke-width="1.3" fill="none"/>
<text x="44.8" y="1175.5" text-anchor="end" font-family="Liberation Serif" font-weight="bold" font-size="13.5">0</text>
<text x="44.8" y="1113.7" text-anchor="end" font-family="Liberation Serif" font-weight="bold" font-size="13.5">3</text>
<text x="44.8" y="1051.9" text-anchor="end" font-family="Liberation Serif" font-weight="bold" font-size="13.5">6</text>
<text x="44.8" y="990.1" text-anchor="end" font-family="Liberation Serif" font-weight="bold" font-size="13.5">9</text>
<text x="44.8" y="928.3" text-anchor="end" font-family="Liberation Serif" font-weight="bold" font-size="13.5">12</text>
<text transform="translate(18.3,1039.8) rotate(-90)" text-anchor="middle" font-family="Liberation Serif" font-weight="bold" font-size="14" textLength="155" lengthAdjust="spacing">Relative expression levels</text>
<text x="0.5" y="928.0" font-family="Liberation Serif" font-weight="bold" font-size="17">(d)</text>
<text x="459.4" y="1211.5" text-anchor="middle" font-family="Liberation Serif" font-weight="bold" font-size="14.5" textLength="33.3" lengthAdjust="spacing">Gene</text>
</svg>
</body></html>
